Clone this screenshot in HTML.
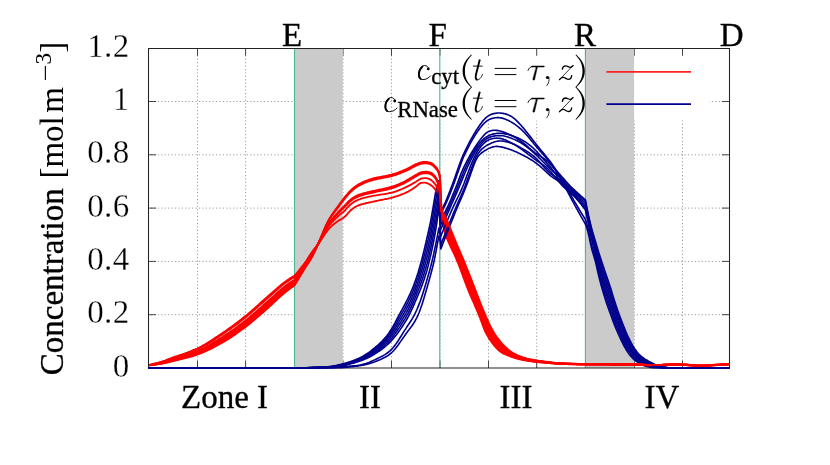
<!DOCTYPE html>
<html><head><meta charset="utf-8"><title>Concentration profiles</title>
<style>
html,body{margin:0;padding:0;background:#fff;}
body{width:830px;height:465px;overflow:hidden;font-family:"Liberation Serif",serif;}
svg{display:block;will-change:transform}
</style></head><body>
<svg width="830" height="465" viewBox="0 0 830 465">
<rect width="830" height="465" fill="#fff"/>
<path d="M197.50,49V368 M245.60,49V368 M294.50,49V368 M343.00,49V368 M391.50,49V368 M440.00,49V368 M488.50,49V368 M536.70,49V368 M585.50,49V368 M634.35,49V368 M682.50,49V368" stroke="#8c8c8c" stroke-width="0.85" stroke-dasharray="1.2,2.22" stroke-dashoffset="0.6" fill="none"/>
<path d="M149,314.70H729.5 M149,261.40H729.5 M149,208.10H729.5 M149,154.80H729.5 M149,101.50H729.5" stroke="#8c8c8c" stroke-width="0.85" stroke-dasharray="1.2,2.22" stroke-dashoffset="1.4" fill="none"/>
<rect x="395" y="49" width="314.5" height="71.5" fill="#fff"/>
<path d="M197.50,368v-7.3 M197.50,48.5v7.3 M245.60,368v-7.3 M245.60,48.5v7.3 M294.50,368v-7.3 M294.50,48.5v7.3 M343.00,368v-7.3 M343.00,48.5v7.3 M391.50,368v-7.3 M391.50,48.5v7.3 M440.00,368v-7.3 M440.00,48.5v7.3 M488.50,368v-7.3 M488.50,48.5v7.3 M536.70,368v-7.3 M536.70,48.5v7.3 M585.50,368v-7.3 M585.50,48.5v7.3 M634.35,368v-7.3 M634.35,48.5v7.3 M682.50,368v-7.3 M682.50,48.5v7.3 M148.6,314.70h7.5 M729.5,314.70h-7.5 M148.6,261.40h7.5 M729.5,261.40h-7.5 M148.6,208.10h7.5 M729.5,208.10h-7.5 M148.6,154.80h7.5 M729.5,154.80h-7.5 M148.6,101.50h7.5 M729.5,101.50h-7.5" stroke="#333" stroke-width="0.9" fill="none"/>
<rect x="295" y="49" width="47.8" height="319" fill="#cbcbcb"/>
<rect x="586" y="49" width="48.1" height="319" fill="#cbcbcb"/>
<path d="M294.5,49V368" stroke="#4db695" stroke-width="1.1" fill="none"/>
<path d="M439.8,49V368" stroke="#4db695" stroke-width="1.1" fill="none"/>
<path d="M585.4,49V368" stroke="#4db695" stroke-width="1.1" fill="none"/>
<path d="M148.5,367.9V48.5H729.5V367.9" fill="none" stroke="#222" stroke-width="1.05"/>
<path d="M148,367.9H730" fill="none" stroke="#222" stroke-width="1.05"/>
<g fill="none" stroke-width="1.85" stroke-linejoin="round" stroke-linecap="butt">
<path stroke="#00008b" stroke-width="1.62" d="M148.6,367.8 L296.0,367.8 L298.0,367.8 L299.0,367.8 L300.0,367.8 L301.0,367.8 L302.0,367.8 L303.0,367.8 L304.0,367.8 L305.0,367.7 L306.0,367.7 L307.0,367.7 L308.0,367.6 L309.0,367.6 L310.0,367.5 L311.0,367.5 L312.0,367.5 L313.0,367.4 L314.0,367.4 L315.0,367.3 L316.0,367.3 L317.0,367.2 L318.0,367.2 L319.0,367.1 L320.0,367.1 L321.0,367.1 L322.0,367.0 L323.0,367.0 L324.0,366.9 L325.0,366.9 L326.0,366.8 L327.0,366.7 L328.0,366.7 L329.0,366.6 L330.0,366.5 L331.0,366.3 L332.0,366.2 L333.0,366.1 L334.0,365.9 L335.0,365.7 L336.0,365.5 L337.0,365.3 L338.0,365.1 L339.0,364.8 L340.0,364.6 L341.0,364.4 L342.0,364.1 L343.0,363.8 L344.0,363.6 L345.0,363.3 L346.0,363.0 L347.0,362.7 L348.0,362.4 L349.0,362.1 L350.0,361.8 L351.0,361.4 L352.0,361.1 L353.0,360.7 L354.0,360.3 L355.0,359.9 L356.0,359.5 L357.0,359.1 L358.0,358.6 L359.0,358.2 L360.0,357.7 L361.0,357.2 L362.0,356.6 L363.0,356.1 L364.0,355.5 L365.0,354.9 L366.0,354.3 L367.0,353.6 L368.0,353.0 L369.0,352.3 L370.0,351.6 L371.0,350.8 L372.0,350.0 L373.0,349.2 L374.0,348.4 L375.0,347.6 L376.0,346.7 L377.0,345.9 L378.0,345.0 L379.0,344.1 L380.0,343.1 L381.0,342.2 L382.0,341.2 L383.0,340.1 L384.0,339.0 L385.0,337.9 L386.0,336.7 L387.0,335.5 L388.0,334.2 L389.0,332.8 L390.0,331.3 L391.0,329.8 L392.0,328.1 L393.0,326.4 L394.0,324.6 L395.0,322.8 L396.0,320.9 L397.0,319.0 L398.0,317.1 L399.0,315.2 L400.0,313.3 L401.0,311.5 L402.0,309.7 L403.0,307.8 L404.0,306.0 L405.0,304.1 L406.0,302.2 L407.0,300.3 L408.0,298.3 L409.0,296.2 L410.0,294.1 L411.0,291.8 L412.0,289.5 L413.0,287.1 L414.0,284.5 L415.0,281.8 L416.0,279.0 L417.0,276.0 L418.0,272.9 L419.0,269.5 L420.0,266.1 L421.0,262.4 L422.0,258.6 L423.0,254.7 L424.0,250.6 L425.0,246.4 L426.0,242.2 L427.0,237.8 L428.0,233.5 L429.0,229.0 L430.0,224.4 L430.3,223.0 L430.6,221.5 L430.9,219.9 L431.2,218.3 L431.5,216.6 L431.8,214.9 L432.1,213.1 L432.4,211.3 L432.7,209.6 L433.0,207.8 L433.3,206.1 L433.6,204.3 L433.9,202.5 L434.2,200.7 L434.5,198.9 L434.8,197.1 L435.1,195.3 L435.4,193.6 L435.7,192.0 L436.0,190.5 L436.3,189.1 L436.6,187.9 L436.9,186.7 L437.2,185.6 L437.5,184.5 L437.8,183.5 L438.1,182.6 L438.4,181.8 L438.7,181.0 L438.9,180.5 L439.8,196.2 L440.1,212.0 L441.0,210.6 L442.0,209.0 L443.0,207.1 L444.0,205.1 L445.0,203.0 L446.0,200.7 L447.0,198.3 L448.0,195.8 L449.0,193.3 L450.0,190.7 L451.0,188.1 L452.0,185.5 L453.0,182.9 L454.0,180.0 L455.0,177.2 L456.0,174.2 L457.0,171.4 L458.0,168.6 L459.0,165.8 L460.0,163.0 L461.0,160.3 L462.0,157.7 L463.0,155.4 L464.0,153.3 L465.0,151.2 L466.0,149.1 L467.0,147.1 L468.0,145.1 L469.0,143.1 L470.0,141.2 L471.0,139.4 L472.0,137.6 L473.0,135.8 L474.0,134.1 L475.0,132.5 L476.0,130.8 L477.0,129.3 L478.0,127.7 L479.0,126.3 L480.0,124.8 L481.0,123.4 L482.0,122.1 L483.0,120.8 L484.0,119.7 L485.0,118.6 L486.0,117.6 L487.0,116.8 L488.0,116.1 L489.0,115.5 L490.0,114.9 L491.0,114.5 L492.0,114.1 L493.0,113.8 L494.0,113.6 L495.0,113.4 L496.0,113.2 L497.0,113.1 L498.0,113.0 L499.0,113.0 L500.0,113.0 L501.0,113.1 L502.0,113.2 L503.0,113.4 L504.0,113.6 L505.0,113.8 L506.0,114.1 L507.0,114.4 L508.0,114.8 L509.0,115.2 L510.0,115.7 L511.0,116.3 L512.0,116.9 L513.0,117.6 L514.0,118.4 L515.0,119.2 L516.0,120.1 L517.0,121.1 L518.0,122.1 L519.0,123.1 L520.0,124.2 L521.0,125.3 L522.0,126.5 L523.0,127.6 L524.0,128.8 L525.0,130.0 L526.0,131.2 L527.0,132.4 L528.0,133.7 L529.0,135.0 L530.0,136.3 L531.0,137.6 L532.0,138.9 L533.0,140.2 L534.0,141.5 L535.0,142.7 L536.0,144.0 L537.0,145.3 L538.0,146.5 L539.0,147.7 L540.0,149.0 L541.0,150.2 L542.0,151.4 L543.0,152.6 L544.0,153.8 L545.0,155.0 L546.0,156.2 L547.0,157.5 L548.0,158.7 L549.0,160.0 L550.0,161.3 L551.0,162.6 L552.0,164.0 L553.0,165.4 L554.0,166.9 L555.0,168.4 L556.0,169.9 L557.0,171.5 L558.0,173.1 L559.0,174.7 L560.0,176.4 L561.0,178.1 L562.0,179.8 L563.0,181.5 L564.0,183.2 L565.0,184.9 L566.0,186.7 L567.0,188.4 L568.0,190.2 L569.0,191.9 L570.0,193.7 L571.0,195.4 L572.0,197.2 L573.0,198.9 L574.0,200.6 L575.0,202.3 L576.0,204.0 L577.0,205.7 L578.0,207.4 L579.0,209.1 L580.0,210.8 L581.0,212.4 L582.0,214.0 L583.0,215.6 L584.0,217.3 L585.4,219.5 L586.0,221.4 L587.0,224.8 L588.0,228.5 L589.0,232.9 L590.0,237.8 L591.0,242.5 L592.0,246.5 L593.0,250.0 L594.0,253.3 L595.0,256.8 L596.0,260.7 L597.0,265.0 L598.0,269.5 L599.0,273.6 L600.0,277.4 L601.0,281.1 L602.0,284.6 L603.0,288.0 L604.0,291.3 L605.0,294.5 L606.0,297.5 L607.0,300.5 L608.0,303.4 L609.0,306.2 L610.0,309.0 L611.0,311.9 L612.0,314.7 L613.0,317.4 L614.0,320.1 L615.0,322.7 L616.0,325.3 L617.0,327.7 L618.0,330.1 L619.0,332.4 L620.0,334.7 L621.0,336.9 L622.0,339.0 L623.0,341.1 L624.0,343.1 L625.0,345.1 L626.0,347.0 L627.0,348.7 L628.0,350.3 L629.0,351.8 L630.0,353.1 L631.0,354.4 L632.0,355.7 L633.0,356.8 L634.0,357.8 L635.0,358.7 L636.0,359.6 L637.0,360.4 L638.0,361.1 L639.0,361.8 L640.0,362.4 L641.0,363.0 L642.0,363.5 L643.0,364.0 L644.0,364.5 L645.0,364.9 L646.0,365.3 L647.0,365.6 L648.0,365.9 L649.0,366.2 L650.0,366.5 L651.0,366.7 L652.0,366.8 L653.0,367.0 L654.0,367.1 L655.0,367.3 L656.0,367.4 L657.0,367.5 L658.0,367.5 L659.0,367.6 L660.0,367.6 L661.0,367.7 L662.0,367.7 L663.0,367.7 L664.0,367.7 L665.0,367.7 L666.0,367.8 L667.0,367.8 L668.0,367.8 L669.0,367.8 L670.0,367.8 L671.0,367.8 L672.0,367.8 L673.0,367.8 L674.0,367.8 L675.0,367.8 L700.0,367.8 L729.5,367.8"/>
<path stroke="#ff0000" d="M149.2,364.9 L151.2,364.5 L153.2,364.0 L155.2,363.5 L157.2,363.0 L159.2,362.4 L161.2,361.8 L163.2,361.2 L165.2,360.5 L167.2,359.7 L169.2,358.9 L171.2,358.2 L173.2,357.4 L175.2,356.7 L177.2,356.0 L179.2,355.3 L181.2,354.7 L183.2,354.0 L185.2,353.3 L187.2,352.6 L189.2,351.8 L191.2,351.0 L193.2,350.2 L195.2,349.4 L197.2,348.5 L199.2,347.5 L201.2,346.5 L203.2,345.4 L205.2,344.3 L207.2,343.1 L209.2,341.8 L211.2,340.5 L213.2,339.2 L215.2,337.9 L217.2,336.6 L219.2,335.2 L221.2,333.9 L223.2,332.5 L225.2,331.2 L227.2,329.8 L229.2,328.3 L231.2,326.9 L233.2,325.4 L235.2,324.0 L237.2,322.4 L239.2,320.9 L241.2,319.4 L243.2,317.8 L245.2,316.2 L247.2,314.6 L249.2,312.9 L251.2,311.2 L253.2,309.4 L255.2,307.7 L257.2,305.9 L259.2,304.1 L261.2,302.3 L263.2,300.5 L265.2,298.7 L267.2,297.0 L269.2,295.2 L271.2,293.5 L273.2,291.7 L275.2,289.9 L277.2,288.1 L279.2,286.4 L281.2,284.8 L283.2,283.2 L285.2,281.7 L287.2,280.3 L289.2,278.9 L290.0,278.4 L290.5,278.1 L291.0,277.8 L291.5,277.5 L292.0,277.2 L292.5,276.9 L293.0,276.6 L293.5,276.3 L294.0,276.0 L294.5,275.7 L295.0,275.1 L295.5,274.6 L296.0,274.0 L296.5,273.4 L297.0,272.9 L297.5,272.3 L298.0,271.7 L298.5,271.1 L299.0,270.4 L299.5,269.8 L300.0,269.2 L301.0,267.9 L302.0,266.6 L303.0,265.3 L304.0,264.0 L305.0,262.6 L306.0,261.2 L307.0,259.7 L308.0,258.1 L309.0,256.6 L310.0,255.0 L311.0,253.5 L312.0,252.0 L313.0,250.6 L314.0,249.3 L315.0,248.0 L316.0,246.8 L317.0,245.6 L318.0,244.3 L319.0,243.0 L320.0,241.6 L321.0,240.1 L322.0,238.6 L323.0,237.0 L324.0,235.4 L325.0,233.9 L326.0,232.4 L327.0,231.1 L328.0,229.8 L329.0,228.7 L330.0,227.6 L331.0,226.7 L332.0,225.7 L333.0,224.8 L334.0,224.0 L335.0,223.2 L336.0,222.4 L337.0,221.7 L338.0,221.0 L339.0,220.3 L340.0,219.8 L341.0,219.3 L342.0,218.7 L343.0,218.1 L344.0,217.4 L345.0,216.5 L346.0,215.5 L347.0,214.4 L348.0,213.2 L349.0,212.1 L350.0,211.0 L351.0,210.0 L352.0,209.2 L353.0,208.4 L354.0,207.8 L355.0,207.1 L356.0,206.5 L357.0,206.0 L358.0,205.6 L359.0,205.2 L360.0,204.8 L361.0,204.5 L362.0,204.2 L363.0,204.0 L364.0,203.7 L365.0,203.5 L366.0,203.2 L367.0,203.0 L368.0,202.8 L369.0,202.5 L370.0,202.3 L371.0,202.1 L372.0,201.9 L373.0,201.7 L374.0,201.5 L375.0,201.3 L376.0,201.0 L377.0,200.8 L378.0,200.6 L379.0,200.4 L380.0,200.2 L381.0,200.0 L382.0,199.8 L383.0,199.6 L384.0,199.4 L385.0,199.2 L386.0,199.0 L387.0,198.8 L388.0,198.6 L389.0,198.3 L390.0,198.1 L391.0,197.8 L392.0,197.6 L393.0,197.3 L394.0,197.0 L395.0,196.7 L396.0,196.4 L397.0,196.1 L398.0,195.8 L399.0,195.4 L400.0,195.1 L401.0,194.7 L402.0,194.3 L403.0,193.9 L404.0,193.5 L405.0,193.1 L406.0,192.6 L407.0,192.1 L408.0,191.6 L409.0,191.0 L410.0,190.5 L411.0,189.9 L412.0,189.2 L413.0,188.6 L414.0,187.9 L415.0,187.3 L416.0,186.6 L417.0,185.8 L418.0,184.9 L419.0,184.0 L420.0,183.4 L421.0,182.9 L422.0,182.8 L423.0,182.7 L424.0,182.6 L425.0,182.7 L426.0,182.9 L427.0,183.2 L428.0,183.6 L429.0,184.0 L430.0,184.6 L430.2,184.7 L430.4,184.9 L430.6,185.0 L430.8,185.1 L431.0,185.3 L431.2,185.4 L431.4,185.6 L431.6,185.7 L431.8,185.9 L432.0,186.0 L432.2,186.2 L432.4,186.4 L432.6,186.5 L432.8,186.7 L433.0,186.9 L433.2,187.1 L433.4,187.3 L433.6,187.5 L433.8,187.7 L434.0,188.0 L434.2,188.2 L434.4,188.4 L434.6,188.7 L434.8,189.0 L435.0,189.2 L435.2,189.5 L435.4,189.8 L435.6,190.1 L435.8,190.5 L436.0,190.8 L436.2,191.3 L436.4,191.7 L436.6,192.2 L436.8,192.7 L437.0,193.3 L437.2,194.0 L437.4,194.8 L437.6,195.7 L437.8,196.6 L438.0,197.7 L438.2,198.8 L438.4,199.9 L438.6,201.1 L438.8,202.3 L439.0,203.4 L439.2,204.6 L439.4,205.8 L439.6,206.9 L439.8,207.9 L440.0,208.9 L440.2,209.9 L440.4,210.9 L440.6,211.9 L440.8,212.9 L441.0,214.0 L441.2,215.0 L441.4,216.0 L441.6,217.1 L441.8,218.1 L442.0,219.1 L442.2,220.2 L442.4,221.2 L442.6,222.2 L442.8,223.2 L443.0,224.2 L443.2,225.1 L443.4,226.1 L443.6,227.0 L443.8,227.9 L444.0,228.8 L444.2,229.7 L444.4,230.5 L444.6,231.3 L444.8,232.1 L445.0,232.8 L445.2,233.5 L445.4,234.2 L445.6,234.8 L445.8,235.4 L446.0,236.0 L447.0,238.6 L448.0,240.9 L449.0,243.1 L450.0,245.3 L451.0,247.5 L452.0,249.5 L453.0,251.6 L454.0,253.7 L455.0,256.0 L456.0,258.2 L457.0,260.6 L458.0,262.9 L459.0,265.4 L460.0,268.0 L461.0,270.7 L462.0,273.5 L463.0,276.3 L464.0,278.9 L465.0,281.6 L466.0,284.2 L467.0,286.8 L468.0,289.3 L469.0,291.8 L470.0,294.3 L471.0,296.6 L472.0,299.0 L473.0,301.2 L474.0,303.5 L475.0,305.8 L476.0,308.2 L477.0,310.5 L478.0,312.9 L479.0,315.3 L480.0,317.7 L481.0,320.4 L482.0,323.2 L483.0,326.0 L484.0,328.7 L485.0,331.0 L486.0,333.0 L487.0,334.8 L488.0,336.6 L489.0,338.2 L490.0,339.7 L491.0,341.2 L492.0,342.7 L493.0,344.0 L494.0,345.3 L495.0,346.5 L496.0,347.6 L497.0,348.7 L498.0,349.7 L499.0,350.6 L500.0,351.4 L501.0,352.1 L502.0,352.7 L503.0,353.3 L504.0,353.8 L505.0,354.2 L506.0,354.7 L507.0,355.1 L508.0,355.5 L509.0,355.9 L510.0,356.3 L511.0,356.7 L512.0,357.0 L513.0,357.3 L514.0,357.7 L515.0,358.0 L516.0,358.3 L517.0,358.5 L518.0,358.8 L519.0,359.1 L520.0,359.3 L521.0,359.5 L522.0,359.8 L523.0,360.0 L524.0,360.2 L525.0,360.4 L526.0,360.6 L527.0,360.7 L528.0,360.9 L529.0,361.1 L530.0,361.2 L531.0,361.3 L532.0,361.5 L533.0,361.6 L534.0,361.7 L535.0,361.8 L536.0,361.9 L537.0,362.0 L538.0,362.2 L539.0,362.3 L540.0,362.4 L541.0,362.4 L542.0,362.5 L543.0,362.6 L544.0,362.7 L545.0,362.8 L546.0,362.9 L547.0,363.0 L548.0,363.1 L549.0,363.1 L550.0,363.2 L551.0,363.3 L552.0,363.4 L553.0,363.4 L554.0,363.5 L555.0,363.6 L556.0,363.6 L557.0,363.7 L558.0,363.8 L559.0,363.8 L560.0,363.9 L562.0,363.9 L564.0,364.0 L566.0,364.1 L568.0,364.2 L570.0,364.2 L572.0,364.3 L574.0,364.4 L576.0,364.4 L578.0,364.5 L580.0,364.5 L582.0,364.5 L584.0,364.5 L586.0,364.6 L588.0,364.6 L590.0,364.6 L592.0,364.6 L594.0,364.6 L596.0,364.6 L598.0,364.6 L600.0,364.6 L602.0,364.6 L604.0,364.6 L606.0,364.6 L608.0,364.6 L610.0,364.7 L612.0,364.7 L614.0,364.7 L616.0,364.7 L618.0,364.7 L620.0,364.7 L622.0,364.7 L624.0,364.7 L626.0,364.8 L628.0,364.8 L630.0,364.8 L632.0,364.8 L634.0,364.9 L636.0,364.9 L638.0,365.0 L640.0,365.1 L642.0,365.2 L644.0,365.3 L646.0,365.4 L648.0,365.5 L650.0,365.6 L652.0,365.6 L654.0,365.6 L656.0,365.6 L658.0,365.6 L660.0,365.5 L662.0,365.4 L664.0,365.2 L666.0,365.2 L668.0,365.1 L670.0,364.9 L672.0,364.9 L674.0,364.8 L676.0,364.8 L678.0,364.8 L680.0,364.9 L682.0,365.0 L684.0,365.1 L686.0,365.2 L688.0,365.4 L690.0,365.5 L692.0,365.6 L694.0,365.7 L696.0,365.9 L698.0,366.0 L700.0,366.0 L702.0,366.0 L704.0,366.0 L706.0,365.9 L708.0,365.8 L710.0,365.7 L712.0,365.5 L714.0,365.4 L716.0,365.3 L718.0,365.2 L720.0,365.1 L722.0,364.9 L724.0,364.8 L726.0,364.7 L728.0,364.6 L729.2,364.5"/>
<path stroke="#00008b" stroke-width="1.62" d="M148.6,367.8 L296.0,367.8 L298.0,367.8 L299.0,367.8 L300.0,367.8 L301.0,367.8 L302.0,367.8 L303.0,367.8 L304.0,367.8 L305.0,367.7 L306.0,367.7 L307.0,367.7 L308.0,367.7 L309.0,367.6 L310.0,367.6 L311.0,367.6 L312.0,367.5 L313.0,367.5 L314.0,367.4 L315.0,367.4 L316.0,367.4 L317.0,367.3 L318.0,367.3 L319.0,367.3 L320.0,367.2 L321.0,367.2 L322.0,367.2 L323.0,367.1 L324.0,367.1 L325.0,367.0 L326.0,367.0 L327.0,366.9 L328.0,366.8 L329.0,366.8 L330.0,366.7 L331.0,366.6 L332.0,366.4 L333.0,366.3 L334.0,366.1 L335.0,366.0 L336.0,365.8 L337.0,365.6 L338.0,365.4 L339.0,365.2 L340.0,364.9 L341.0,364.7 L342.0,364.5 L343.0,364.2 L344.0,363.9 L345.0,363.7 L346.0,363.4 L347.0,363.1 L348.0,362.8 L349.0,362.5 L350.0,362.2 L351.0,361.9 L352.0,361.5 L353.0,361.2 L354.0,360.8 L355.0,360.5 L356.0,360.1 L357.0,359.7 L358.0,359.2 L359.0,358.8 L360.0,358.3 L361.0,357.9 L362.0,357.4 L363.0,356.9 L364.0,356.3 L365.0,355.8 L366.0,355.2 L367.0,354.6 L368.0,353.9 L369.0,353.3 L370.0,352.6 L371.0,351.9 L372.0,351.2 L373.0,350.4 L374.0,349.6 L375.0,348.9 L376.0,348.0 L377.0,347.2 L378.0,346.4 L379.0,345.5 L380.0,344.6 L381.0,343.7 L382.0,342.7 L383.0,341.8 L384.0,340.7 L385.0,339.7 L386.0,338.6 L387.0,337.4 L388.0,336.2 L389.0,334.9 L390.0,333.5 L391.0,332.0 L392.0,330.5 L393.0,328.9 L394.0,327.2 L395.0,325.5 L396.0,323.8 L397.0,322.0 L398.0,320.2 L399.0,318.4 L400.0,316.6 L401.0,314.9 L402.0,313.1 L403.0,311.3 L404.0,309.6 L405.0,307.8 L406.0,305.9 L407.0,304.0 L408.0,302.0 L409.0,300.0 L410.0,297.9 L411.0,295.7 L412.0,293.4 L413.0,291.0 L414.0,288.5 L415.0,285.9 L416.0,283.2 L417.0,280.3 L418.0,277.4 L419.0,274.2 L420.0,270.9 L421.0,267.5 L422.0,264.0 L423.0,260.3 L424.0,256.4 L425.0,252.4 L426.0,248.4 L427.0,244.3 L428.0,240.1 L429.0,235.7 L430.0,231.2 L430.3,229.7 L430.6,228.3 L430.9,226.8 L431.2,225.2 L431.5,223.6 L431.8,221.9 L432.1,220.3 L432.4,218.6 L432.7,216.9 L433.0,215.2 L433.3,213.5 L433.6,211.8 L433.9,210.0 L434.2,208.2 L434.5,206.5 L434.8,204.7 L435.1,203.0 L435.4,201.3 L435.7,199.6 L436.0,198.1 L436.3,196.6 L436.6,195.2 L436.9,193.8 L437.2,192.5 L437.5,191.2 L437.8,190.0 L438.1,188.8 L438.4,187.6 L438.7,186.5 L438.9,185.8 L439.8,200.2 L440.1,214.5 L441.0,213.1 L442.0,211.3 L443.0,209.5 L444.0,207.5 L445.0,205.4 L446.0,203.2 L447.0,200.9 L448.0,198.6 L449.0,196.2 L450.0,193.7 L451.0,191.2 L452.0,188.6 L453.0,186.0 L454.0,183.4 L455.0,180.6 L456.0,177.7 L457.0,174.8 L458.0,172.0 L459.0,169.2 L460.0,166.4 L461.0,163.5 L462.0,160.8 L463.0,158.3 L464.0,156.0 L465.0,153.9 L466.0,151.8 L467.0,149.8 L468.0,147.8 L469.0,145.8 L470.0,143.9 L471.0,142.1 L472.0,140.3 L473.0,138.6 L474.0,137.0 L475.0,135.4 L476.0,133.8 L477.0,132.3 L478.0,130.9 L479.0,129.5 L480.0,128.1 L481.0,126.9 L482.0,125.6 L483.0,124.5 L484.0,123.4 L485.0,122.5 L486.0,121.6 L487.0,120.8 L488.0,120.2 L489.0,119.6 L490.0,119.2 L491.0,118.8 L492.0,118.4 L493.0,118.2 L494.0,118.0 L495.0,117.8 L496.0,117.7 L497.0,117.6 L498.0,117.6 L499.0,117.6 L500.0,117.7 L501.0,117.9 L502.0,118.1 L503.0,118.4 L504.0,118.7 L505.0,119.1 L506.0,119.5 L507.0,119.9 L508.0,120.3 L509.0,120.8 L510.0,121.4 L511.0,121.9 L512.0,122.5 L513.0,123.1 L514.0,123.7 L515.0,124.4 L516.0,125.1 L517.0,125.9 L518.0,126.6 L519.0,127.5 L520.0,128.3 L521.0,129.2 L522.0,130.1 L523.0,131.1 L524.0,132.1 L525.0,133.1 L526.0,134.2 L527.0,135.4 L528.0,136.5 L529.0,137.7 L530.0,138.9 L531.0,140.2 L532.0,141.4 L533.0,142.6 L534.0,143.9 L535.0,145.1 L536.0,146.3 L537.0,147.5 L538.0,148.6 L539.0,149.8 L540.0,150.9 L541.0,152.0 L542.0,153.2 L543.0,154.3 L544.0,155.4 L545.0,156.6 L546.0,157.8 L547.0,159.0 L548.0,160.2 L549.0,161.5 L550.0,162.8 L551.0,164.1 L552.0,165.5 L553.0,166.9 L554.0,168.4 L555.0,169.9 L556.0,171.4 L557.0,173.0 L558.0,174.6 L559.0,176.2 L560.0,177.9 L561.0,179.6 L562.0,181.4 L563.0,183.1 L564.0,185.0 L565.0,186.8 L566.0,188.6 L567.0,190.5 L568.0,192.4 L569.0,194.3 L570.0,196.2 L571.0,198.1 L572.0,200.0 L573.0,201.9 L574.0,203.7 L575.0,205.6 L576.0,207.4 L577.0,209.2 L578.0,211.0 L579.0,212.8 L580.0,214.6 L581.0,216.4 L582.0,218.1 L583.0,219.9 L584.0,221.6 L585.4,224.0 L586.0,225.6 L587.0,228.6 L588.0,232.0 L589.0,236.2 L590.0,241.1 L591.0,245.9 L592.0,249.9 L593.0,253.3 L594.0,256.5 L595.0,259.9 L596.0,263.8 L597.0,268.2 L598.0,272.8 L599.0,277.0 L600.0,280.9 L601.0,284.7 L602.0,288.3 L603.0,291.8 L604.0,295.1 L605.0,298.3 L606.0,301.4 L607.0,304.4 L608.0,307.2 L609.0,310.1 L610.0,312.8 L611.0,315.6 L612.0,318.3 L613.0,321.0 L614.0,323.6 L615.0,326.1 L616.0,328.6 L617.0,330.9 L618.0,333.3 L619.0,335.5 L620.0,337.7 L621.0,339.8 L622.0,341.8 L623.0,343.8 L624.0,345.8 L625.0,347.7 L626.0,349.4 L627.0,351.1 L628.0,352.6 L629.0,354.0 L630.0,355.2 L631.0,356.4 L632.0,357.5 L633.0,358.6 L634.0,359.5 L635.0,360.3 L636.0,361.1 L637.0,361.8 L638.0,362.4 L639.0,363.0 L640.0,363.6 L641.0,364.1 L642.0,364.6 L643.0,365.1 L644.0,365.5 L645.0,365.9 L646.0,366.2 L647.0,366.5 L648.0,366.8 L649.0,367.0 L650.0,367.2 L651.0,367.4 L652.0,367.5 L653.0,367.6 L654.0,367.6 L655.0,367.7 L656.0,367.8 L657.0,367.8 L658.0,367.8 L659.0,367.8 L660.0,367.8 L661.0,367.8 L662.0,367.8 L663.0,367.8 L664.0,367.8 L665.0,367.8 L666.0,367.8 L667.0,367.8 L668.0,367.8 L669.0,367.8 L670.0,367.8 L671.0,367.8 L672.0,367.8 L673.0,367.8 L674.0,367.8 L675.0,367.8 L700.0,367.8 L729.5,367.8"/>
<path stroke="#ff0000" d="M149.2,365.0 L151.2,364.6 L153.2,364.2 L155.2,363.7 L157.2,363.2 L159.2,362.7 L161.2,362.1 L163.2,361.5 L165.2,360.8 L167.2,360.1 L169.2,359.4 L171.2,358.6 L173.2,357.9 L175.2,357.3 L177.2,356.6 L179.2,355.9 L181.2,355.3 L183.2,354.6 L185.2,353.9 L187.2,353.3 L189.2,352.5 L191.2,351.8 L193.2,351.0 L195.2,350.2 L197.2,349.3 L199.2,348.4 L201.2,347.4 L203.2,346.4 L205.2,345.2 L207.2,344.1 L209.2,342.9 L211.2,341.6 L213.2,340.4 L215.2,339.1 L217.2,337.8 L219.2,336.5 L221.2,335.1 L223.2,333.8 L225.2,332.5 L227.2,331.1 L229.2,329.7 L231.2,328.3 L233.2,326.8 L235.2,325.4 L237.2,323.9 L239.2,322.4 L241.2,320.8 L243.2,319.3 L245.2,317.7 L247.2,316.1 L249.2,314.4 L251.2,312.7 L253.2,311.0 L255.2,309.2 L257.2,307.4 L259.2,305.6 L261.2,303.9 L263.2,302.1 L265.2,300.3 L267.2,298.6 L269.2,296.8 L271.2,295.0 L273.2,293.2 L275.2,291.4 L277.2,289.7 L279.2,287.9 L281.2,286.2 L283.2,284.6 L285.2,283.1 L287.2,281.7 L289.2,280.3 L290.0,279.8 L290.5,279.5 L291.0,279.2 L291.5,278.8 L292.0,278.5 L292.5,278.2 L293.0,277.9 L293.5,277.6 L294.0,277.3 L294.5,277.0 L295.0,276.4 L295.5,275.8 L296.0,275.2 L296.5,274.6 L297.0,274.0 L297.5,273.4 L298.0,272.8 L298.5,272.1 L299.0,271.5 L299.5,270.8 L300.0,270.2 L301.0,268.9 L302.0,267.5 L303.0,266.2 L304.0,264.8 L305.0,263.4 L306.0,261.9 L307.0,260.4 L308.0,258.9 L309.0,257.3 L310.0,255.8 L311.0,254.3 L312.0,252.7 L313.0,251.3 L314.0,249.8 L315.0,248.4 L316.0,247.0 L317.0,245.6 L318.0,244.1 L319.0,242.6 L320.0,241.0 L321.0,239.3 L322.0,237.5 L323.0,235.6 L324.0,233.8 L325.0,232.0 L326.0,230.2 L327.0,228.6 L328.0,227.1 L329.0,225.7 L330.0,224.5 L331.0,223.3 L332.0,222.2 L333.0,221.1 L334.0,220.1 L335.0,219.1 L336.0,218.1 L337.0,217.2 L338.0,216.3 L339.0,215.4 L340.0,214.6 L341.0,213.8 L342.0,213.0 L343.0,212.2 L344.0,211.3 L345.0,210.3 L346.0,209.2 L347.0,208.1 L348.0,207.0 L349.0,206.0 L350.0,205.0 L351.0,204.1 L352.0,203.3 L353.0,202.6 L354.0,201.9 L355.0,201.3 L356.0,200.8 L357.0,200.3 L358.0,199.8 L359.0,199.4 L360.0,199.1 L361.0,198.7 L362.0,198.4 L363.0,198.2 L364.0,197.9 L365.0,197.6 L366.0,197.4 L367.0,197.2 L368.0,196.9 L369.0,196.7 L370.0,196.5 L371.0,196.3 L372.0,196.1 L373.0,195.9 L374.0,195.7 L375.0,195.6 L376.0,195.4 L377.0,195.2 L378.0,195.1 L379.0,194.9 L380.0,194.7 L381.0,194.6 L382.0,194.4 L383.0,194.3 L384.0,194.1 L385.0,194.0 L386.0,193.8 L387.0,193.6 L388.0,193.4 L389.0,193.2 L390.0,193.0 L391.0,192.8 L392.0,192.5 L393.0,192.3 L394.0,192.0 L395.0,191.7 L396.0,191.3 L397.0,191.0 L398.0,190.6 L399.0,190.2 L400.0,189.8 L401.0,189.4 L402.0,189.0 L403.0,188.6 L404.0,188.1 L405.0,187.7 L406.0,187.2 L407.0,186.7 L408.0,186.2 L409.0,185.7 L410.0,185.1 L411.0,184.6 L412.0,184.0 L413.0,183.4 L414.0,182.8 L415.0,182.3 L416.0,181.7 L417.0,181.1 L418.0,180.4 L419.0,179.8 L420.0,179.2 L421.0,178.7 L422.0,178.4 L423.0,178.3 L424.0,178.2 L425.0,178.1 L426.0,178.1 L427.0,178.3 L428.0,178.5 L429.0,178.9 L430.0,179.4 L430.2,179.5 L430.4,179.7 L430.6,179.8 L430.8,179.9 L431.0,180.1 L431.2,180.2 L431.4,180.4 L431.6,180.5 L431.8,180.7 L432.0,180.8 L432.2,181.0 L432.4,181.2 L432.6,181.3 L432.8,181.5 L433.0,181.7 L433.2,181.9 L433.4,182.1 L433.6,182.3 L433.8,182.6 L434.0,182.8 L434.2,183.0 L434.4,183.3 L434.6,183.5 L434.8,183.8 L435.0,184.0 L435.2,184.3 L435.4,184.6 L435.6,184.9 L435.8,185.1 L436.0,185.4 L436.2,185.8 L436.4,186.1 L436.6,186.5 L436.8,186.9 L437.0,187.3 L437.2,187.8 L437.4,188.3 L437.6,188.9 L437.8,189.5 L438.0,190.3 L438.2,191.5 L438.4,193.0 L438.6,194.7 L438.8,196.5 L439.0,198.5 L439.2,200.4 L439.4,202.4 L439.6,204.3 L439.8,206.0 L440.0,207.5 L440.2,208.8 L440.4,209.9 L440.6,211.1 L440.8,212.2 L441.0,213.3 L441.2,214.4 L441.4,215.4 L441.6,216.4 L441.8,217.4 L442.0,218.4 L442.2,219.3 L442.4,220.3 L442.6,221.2 L442.8,222.1 L443.0,222.9 L443.2,223.8 L443.4,224.6 L443.6,225.4 L443.8,226.2 L444.0,226.9 L444.2,227.7 L444.4,228.4 L444.6,229.1 L444.8,229.8 L445.0,230.5 L445.2,231.1 L445.4,231.7 L445.6,232.4 L445.8,232.9 L446.0,233.5 L447.0,236.1 L448.0,238.4 L449.0,240.6 L450.0,242.8 L451.0,245.0 L452.0,247.2 L453.0,249.3 L454.0,251.5 L455.0,253.7 L456.0,256.0 L457.0,258.3 L458.0,260.7 L459.0,263.2 L460.0,265.7 L461.0,268.4 L462.0,271.1 L463.0,273.8 L464.0,276.5 L465.0,279.1 L466.0,281.6 L467.0,284.2 L468.0,286.8 L469.0,289.3 L470.0,291.7 L471.0,294.1 L472.0,296.5 L473.0,298.8 L474.0,301.1 L475.0,303.5 L476.0,305.8 L477.0,308.2 L478.0,310.6 L479.0,313.0 L480.0,315.5 L481.0,318.2 L482.0,320.9 L483.0,323.7 L484.0,326.3 L485.0,328.6 L486.0,330.7 L487.0,332.6 L488.0,334.4 L489.0,336.1 L490.0,337.7 L491.0,339.3 L492.0,340.8 L493.0,342.2 L494.0,343.5 L495.0,344.8 L496.0,346.0 L497.0,347.1 L498.0,348.2 L499.0,349.1 L500.0,350.0 L501.0,350.7 L502.0,351.4 L503.0,352.1 L504.0,352.6 L505.0,353.2 L506.0,353.7 L507.0,354.2 L508.0,354.7 L509.0,355.1 L510.0,355.6 L511.0,356.0 L512.0,356.4 L513.0,356.7 L514.0,357.1 L515.0,357.4 L516.0,357.7 L517.0,358.1 L518.0,358.3 L519.0,358.6 L520.0,358.9 L521.0,359.1 L522.0,359.4 L523.0,359.6 L524.0,359.8 L525.0,360.0 L526.0,360.2 L527.0,360.4 L528.0,360.6 L529.0,360.8 L530.0,360.9 L531.0,361.1 L532.0,361.2 L533.0,361.4 L534.0,361.5 L535.0,361.6 L536.0,361.7 L537.0,361.8 L538.0,361.9 L539.0,362.1 L540.0,362.2 L541.0,362.3 L542.0,362.4 L543.0,362.4 L544.0,362.5 L545.0,362.6 L546.0,362.7 L547.0,362.8 L548.0,362.9 L549.0,363.0 L550.0,363.1 L551.0,363.2 L552.0,363.2 L553.0,363.3 L554.0,363.4 L555.0,363.5 L556.0,363.5 L557.0,363.6 L558.0,363.7 L559.0,363.7 L560.0,363.8 L562.0,363.8 L564.0,363.9 L566.0,364.0 L568.0,364.1 L570.0,364.1 L572.0,364.2 L574.0,364.3 L576.0,364.3 L578.0,364.4 L580.0,364.4 L582.0,364.4 L584.0,364.4 L586.0,364.5 L588.0,364.5 L590.0,364.5 L592.0,364.5 L594.0,364.5 L596.0,364.5 L598.0,364.5 L600.0,364.5 L602.0,364.5 L604.0,364.5 L606.0,364.5 L608.0,364.5 L610.0,364.6 L612.0,364.6 L614.0,364.6 L616.0,364.6 L618.0,364.6 L620.0,364.6 L622.0,364.6 L624.0,364.6 L626.0,364.7 L628.0,364.7 L630.0,364.7 L632.0,364.7 L634.0,364.8 L636.0,364.8 L638.0,364.9 L640.0,365.0 L642.0,365.1 L644.0,365.2 L646.0,365.3 L648.0,365.4 L650.0,365.5 L652.0,365.5 L654.0,365.5 L656.0,365.5 L658.0,365.5 L660.0,365.4 L662.0,365.3 L664.0,365.2 L666.0,365.1 L668.0,365.0 L670.0,364.9 L672.0,364.8 L674.0,364.7 L676.0,364.7 L678.0,364.7 L680.0,364.8 L682.0,364.9 L684.0,365.0 L686.0,365.1 L688.0,365.3 L690.0,365.4 L692.0,365.5 L694.0,365.7 L696.0,365.8 L698.0,365.9 L700.0,365.9 L702.0,365.9 L704.0,365.9 L706.0,365.8 L708.0,365.7 L710.0,365.6 L712.0,365.4 L714.0,365.3 L716.0,365.2 L718.0,365.1 L720.0,365.0 L722.0,364.8 L724.0,364.7 L726.0,364.6 L728.0,364.5 L729.2,364.4"/>
<path stroke="#00008b" stroke-width="1.62" d="M148.6,367.8 L296.0,367.8 L298.0,367.8 L299.0,367.8 L300.0,367.8 L301.0,367.8 L302.0,367.8 L303.0,367.8 L304.0,367.8 L305.0,367.8 L306.0,367.7 L307.0,367.7 L308.0,367.7 L309.0,367.7 L310.0,367.6 L311.0,367.6 L312.0,367.6 L313.0,367.6 L314.0,367.5 L315.0,367.5 L316.0,367.5 L317.0,367.4 L318.0,367.4 L319.0,367.4 L320.0,367.3 L321.0,367.3 L322.0,367.3 L323.0,367.3 L324.0,367.2 L325.0,367.2 L326.0,367.1 L327.0,367.1 L328.0,367.0 L329.0,367.0 L330.0,366.9 L331.0,366.8 L332.0,366.7 L333.0,366.5 L334.0,366.4 L335.0,366.2 L336.0,366.1 L337.0,365.9 L338.0,365.7 L339.0,365.5 L340.0,365.3 L341.0,365.0 L342.0,364.8 L343.0,364.6 L344.0,364.3 L345.0,364.1 L346.0,363.8 L347.0,363.5 L348.0,363.2 L349.0,363.0 L350.0,362.7 L351.0,362.3 L352.0,362.0 L353.0,361.7 L354.0,361.3 L355.0,361.0 L356.0,360.6 L357.0,360.2 L358.0,359.8 L359.0,359.4 L360.0,359.0 L361.0,358.6 L362.0,358.1 L363.0,357.6 L364.0,357.1 L365.0,356.6 L366.0,356.0 L367.0,355.5 L368.0,354.9 L369.0,354.3 L370.0,353.6 L371.0,353.0 L372.0,352.3 L373.0,351.6 L374.0,350.9 L375.0,350.1 L376.0,349.3 L377.0,348.6 L378.0,347.8 L379.0,346.9 L380.0,346.1 L381.0,345.2 L382.0,344.3 L383.0,343.4 L384.0,342.4 L385.0,341.4 L386.0,340.4 L387.0,339.3 L388.0,338.1 L389.0,336.9 L390.0,335.7 L391.0,334.3 L392.0,332.9 L393.0,331.4 L394.0,329.9 L395.0,328.3 L396.0,326.6 L397.0,325.0 L398.0,323.3 L399.0,321.6 L400.0,319.9 L401.0,318.3 L402.0,316.6 L403.0,314.9 L404.0,313.2 L405.0,311.4 L406.0,309.6 L407.0,307.7 L408.0,305.8 L409.0,303.8 L410.0,301.8 L411.0,299.6 L412.0,297.3 L413.0,295.0 L414.0,292.6 L415.0,290.0 L416.0,287.4 L417.0,284.7 L418.0,281.8 L419.0,278.9 L420.0,275.8 L421.0,272.6 L422.0,269.3 L423.0,265.9 L424.0,262.2 L425.0,258.5 L426.0,254.7 L427.0,250.8 L428.0,246.7 L429.0,242.3 L430.0,237.9 L430.3,236.5 L430.6,235.1 L430.9,233.6 L431.2,232.1 L431.5,230.6 L431.8,229.0 L432.1,227.4 L432.4,225.8 L432.7,224.1 L433.0,222.5 L433.3,220.9 L433.6,219.2 L433.9,217.5 L434.2,215.8 L434.5,214.0 L434.8,212.3 L435.1,210.6 L435.4,208.9 L435.7,207.2 L436.0,205.6 L436.3,204.0 L436.6,202.5 L436.9,201.0 L437.2,199.5 L437.5,197.9 L437.8,196.4 L438.1,195.0 L438.4,193.5 L438.7,192.0 L438.9,191.1 L439.9,206.1 L440.2,221.0 L441.0,219.6 L442.0,217.8 L443.0,216.0 L444.0,214.1 L445.0,212.2 L446.0,210.2 L447.0,208.1 L448.0,206.0 L449.0,203.8 L450.0,201.5 L451.0,199.2 L452.0,196.8 L453.0,194.4 L454.0,192.0 L455.0,189.5 L456.0,187.0 L457.0,184.5 L458.0,181.9 L459.0,179.1 L460.0,176.4 L461.0,173.7 L462.0,171.3 L463.0,169.1 L464.0,166.9 L465.0,164.9 L466.0,162.9 L467.0,161.0 L468.0,159.1 L469.0,157.3 L470.0,155.5 L471.0,153.7 L472.0,152.0 L473.0,150.4 L474.0,148.8 L475.0,147.2 L476.0,145.7 L477.0,144.2 L478.0,142.8 L479.0,141.4 L480.0,140.0 L481.0,138.7 L482.0,137.4 L483.0,136.2 L484.0,135.1 L485.0,134.1 L486.0,133.2 L487.0,132.5 L488.0,131.9 L489.0,131.4 L490.0,131.0 L491.0,130.7 L492.0,130.5 L493.0,130.4 L494.0,130.3 L495.0,130.3 L496.0,130.4 L497.0,130.4 L498.0,130.6 L499.0,130.8 L500.0,131.0 L501.0,131.2 L502.0,131.5 L503.0,131.9 L504.0,132.2 L505.0,132.6 L506.0,133.0 L507.0,133.4 L508.0,133.8 L509.0,134.3 L510.0,134.7 L511.0,135.2 L512.0,135.7 L513.0,136.2 L514.0,136.8 L515.0,137.3 L516.0,137.9 L517.0,138.6 L518.0,139.2 L519.0,139.9 L520.0,140.6 L521.0,141.3 L522.0,142.0 L523.0,142.8 L524.0,143.6 L525.0,144.4 L526.0,145.2 L527.0,146.0 L528.0,146.9 L529.0,147.8 L530.0,148.6 L531.0,149.5 L532.0,150.4 L533.0,151.2 L534.0,152.0 L535.0,152.8 L536.0,153.5 L537.0,154.2 L538.0,154.8 L539.0,155.5 L540.0,156.1 L541.0,156.7 L542.0,157.3 L543.0,158.0 L544.0,158.7 L545.0,159.5 L546.0,160.3 L547.0,161.1 L548.0,162.0 L549.0,163.0 L550.0,164.0 L551.0,165.0 L552.0,166.0 L553.0,167.1 L554.0,168.1 L555.0,169.2 L556.0,170.3 L557.0,171.3 L558.0,172.4 L559.0,173.5 L560.0,174.6 L561.0,175.7 L562.0,176.9 L563.0,178.0 L564.0,179.1 L565.0,180.3 L566.0,181.5 L567.0,182.6 L568.0,183.8 L569.0,184.9 L570.0,186.1 L571.0,187.2 L572.0,188.3 L573.0,189.3 L574.0,190.4 L575.0,191.4 L576.0,192.5 L577.0,193.5 L578.0,194.5 L579.0,195.4 L580.0,196.4 L581.0,197.3 L582.0,198.1 L583.0,199.0 L584.0,199.9 L585.4,201.0 L586.0,204.2 L587.0,209.3 L588.0,214.1 L589.0,218.8 L590.0,223.3 L591.0,227.6 L592.0,231.5 L593.0,235.2 L594.0,238.7 L595.0,242.2 L596.0,245.8 L597.0,249.5 L598.0,253.1 L599.0,256.6 L600.0,259.9 L601.0,263.1 L602.0,266.2 L603.0,269.3 L604.0,272.3 L605.0,275.3 L606.0,278.2 L607.0,281.2 L608.0,284.1 L609.0,287.0 L610.0,290.0 L611.0,293.1 L612.0,296.3 L613.0,299.5 L614.0,302.6 L615.0,305.7 L616.0,308.7 L617.0,311.6 L618.0,314.4 L619.0,317.1 L620.0,319.7 L621.0,322.3 L622.0,324.9 L623.0,327.3 L624.0,329.8 L625.0,332.2 L626.0,334.5 L627.0,336.7 L628.0,338.8 L629.0,340.8 L630.0,342.7 L631.0,344.5 L632.0,346.2 L633.0,347.8 L634.0,349.3 L635.0,350.7 L636.0,352.0 L637.0,353.3 L638.0,354.4 L639.0,355.5 L640.0,356.4 L641.0,357.3 L642.0,358.1 L643.0,358.8 L644.0,359.4 L645.0,360.1 L646.0,360.7 L647.0,361.2 L648.0,361.8 L649.0,362.3 L650.0,362.7 L651.0,363.2 L652.0,363.6 L653.0,364.1 L654.0,364.6 L655.0,365.0 L656.0,365.4 L657.0,365.8 L658.0,366.1 L659.0,366.4 L660.0,366.7 L661.0,366.9 L662.0,367.1 L663.0,367.3 L664.0,367.4 L665.0,367.5 L666.0,367.5 L667.0,367.6 L668.0,367.7 L669.0,367.7 L670.0,367.8 L671.0,367.8 L672.0,367.8 L673.0,367.8 L674.0,367.8 L675.0,367.8 L700.0,367.8 L729.5,367.8"/>
<path stroke="#ff0000" d="M149.2,365.1 L151.2,364.8 L153.2,364.4 L155.2,364.0 L157.2,363.6 L159.2,363.1 L161.2,362.6 L163.2,362.1 L165.2,361.5 L167.2,360.9 L169.2,360.2 L171.2,359.6 L173.2,359.0 L175.2,358.3 L177.2,357.7 L179.2,357.1 L181.2,356.5 L183.2,355.9 L185.2,355.3 L187.2,354.7 L189.2,354.0 L191.2,353.3 L193.2,352.6 L195.2,351.8 L197.2,351.0 L199.2,350.2 L201.2,349.2 L203.2,348.3 L205.2,347.2 L207.2,346.1 L209.2,345.0 L211.2,343.8 L213.2,342.6 L215.2,341.4 L217.2,340.2 L219.2,338.9 L221.2,337.7 L223.2,336.4 L225.2,335.1 L227.2,333.8 L229.2,332.5 L231.2,331.1 L233.2,329.7 L235.2,328.2 L237.2,326.8 L239.2,325.3 L241.2,323.8 L243.2,322.2 L245.2,320.7 L247.2,319.1 L249.2,317.5 L251.2,315.8 L253.2,314.1 L255.2,312.4 L257.2,310.6 L259.2,308.8 L261.2,307.1 L263.2,305.3 L265.2,303.5 L267.2,301.8 L269.2,300.0 L271.2,298.2 L273.2,296.4 L275.2,294.6 L277.2,292.7 L279.2,291.0 L281.2,289.2 L283.2,287.6 L285.2,286.0 L287.2,284.5 L289.2,283.1 L290.0,282.6 L290.5,282.3 L291.0,281.9 L291.5,281.6 L292.0,281.3 L292.5,281.0 L293.0,280.6 L293.5,280.3 L294.0,280.0 L294.5,279.7 L295.0,279.0 L295.5,278.4 L296.0,277.7 L296.5,277.0 L297.0,276.3 L297.5,275.6 L298.0,275.0 L298.5,274.3 L299.0,273.6 L299.5,272.9 L300.0,272.2 L301.0,270.7 L302.0,269.3 L303.0,267.8 L304.0,266.4 L305.0,264.9 L306.0,263.4 L307.0,261.9 L308.0,260.4 L309.0,258.8 L310.0,257.3 L311.0,255.7 L312.0,254.1 L313.0,252.5 L314.0,250.9 L315.0,249.2 L316.0,247.6 L317.0,245.9 L318.0,244.1 L319.0,242.4 L320.0,240.6 L321.0,238.7 L322.0,236.7 L323.0,234.7 L324.0,232.7 L325.0,230.8 L326.0,228.9 L327.0,227.1 L328.0,225.5 L329.0,224.0 L330.0,222.6 L331.0,221.3 L332.0,220.1 L333.0,218.9 L334.0,217.8 L335.0,216.7 L336.0,215.6 L337.0,214.6 L338.0,213.5 L339.0,212.5 L340.0,211.5 L341.0,210.5 L342.0,209.6 L343.0,208.6 L344.0,207.7 L345.0,206.7 L346.0,205.6 L347.0,204.6 L348.0,203.5 L349.0,202.5 L350.0,201.6 L351.0,200.8 L352.0,200.0 L353.0,199.3 L354.0,198.7 L355.0,198.1 L356.0,197.6 L357.0,197.1 L358.0,196.6 L359.0,196.2 L360.0,195.9 L361.0,195.6 L362.0,195.3 L363.0,195.0 L364.0,194.7 L365.0,194.4 L366.0,194.2 L367.0,193.9 L368.0,193.7 L369.0,193.5 L370.0,193.2 L371.0,193.0 L372.0,192.8 L373.0,192.5 L374.0,192.3 L375.0,192.1 L376.0,191.9 L377.0,191.7 L378.0,191.4 L379.0,191.2 L380.0,191.0 L381.0,190.8 L382.0,190.6 L383.0,190.4 L384.0,190.2 L385.0,190.0 L386.0,189.8 L387.0,189.5 L388.0,189.3 L389.0,189.0 L390.0,188.7 L391.0,188.5 L392.0,188.2 L393.0,187.8 L394.0,187.5 L395.0,187.2 L396.0,186.8 L397.0,186.4 L398.0,186.0 L399.0,185.6 L400.0,185.1 L401.0,184.7 L402.0,184.2 L403.0,183.8 L404.0,183.3 L405.0,182.8 L406.0,182.2 L407.0,181.7 L408.0,181.1 L409.0,180.5 L410.0,179.9 L411.0,179.3 L412.0,178.7 L413.0,178.1 L414.0,177.5 L415.0,176.9 L416.0,176.3 L417.0,175.8 L418.0,175.2 L419.0,174.7 L420.0,174.2 L421.0,173.9 L422.0,173.6 L423.0,173.4 L424.0,173.3 L425.0,173.2 L426.0,173.2 L427.0,173.2 L428.0,173.4 L429.0,173.6 L430.0,173.9 L430.2,174.0 L430.4,174.0 L430.6,174.1 L430.8,174.2 L431.0,174.3 L431.2,174.4 L431.4,174.5 L431.6,174.6 L431.8,174.8 L432.0,174.9 L432.2,175.0 L432.4,175.2 L432.6,175.4 L432.8,175.5 L433.0,175.7 L433.2,175.9 L433.4,176.1 L433.6,176.3 L433.8,176.5 L434.0,176.7 L434.2,176.9 L434.4,177.2 L434.6,177.4 L434.8,177.7 L435.0,177.9 L435.2,178.1 L435.4,178.4 L435.6,178.7 L435.8,179.0 L436.0,179.3 L436.2,179.6 L436.4,180.0 L436.6,180.3 L436.8,180.7 L437.0,181.1 L437.2,181.6 L437.4,182.0 L437.6,182.5 L437.8,183.0 L438.0,183.6 L438.2,184.1 L438.4,184.8 L438.6,185.4 L438.8,186.2 L439.0,187.1 L439.2,188.2 L439.4,189.5 L439.6,191.4 L439.8,195.4 L440.0,200.5 L440.2,205.2 L440.4,208.3 L440.6,209.9 L440.8,211.3 L441.0,212.7 L441.2,214.0 L441.4,215.2 L441.6,216.3 L441.8,217.3 L442.0,218.2 L442.2,219.1 L442.4,220.0 L442.6,220.8 L442.8,221.5 L443.0,222.2 L443.2,222.8 L443.4,223.4 L443.6,224.0 L443.8,224.6 L444.0,225.2 L444.2,225.7 L444.4,226.2 L444.6,226.8 L444.8,227.3 L445.0,227.8 L445.2,228.4 L445.4,229.0 L445.6,229.5 L445.8,230.1 L446.0,230.7 L447.0,233.2 L448.0,235.5 L449.0,237.7 L450.0,240.0 L451.0,242.2 L452.0,244.4 L453.0,246.6 L454.0,248.9 L455.0,251.2 L456.0,253.5 L457.0,255.8 L458.0,258.2 L459.0,260.6 L460.0,263.1 L461.0,265.7 L462.0,268.4 L463.0,271.0 L464.0,273.6 L465.0,276.2 L466.0,278.8 L467.0,281.3 L468.0,283.9 L469.0,286.4 L470.0,288.9 L471.0,291.3 L472.0,293.7 L473.0,296.0 L474.0,298.4 L475.0,300.8 L476.0,303.2 L477.0,305.6 L478.0,308.0 L479.0,310.5 L480.0,313.0 L481.0,315.6 L482.0,318.3 L483.0,321.0 L484.0,323.6 L485.0,326.0 L486.0,328.1 L487.0,330.1 L488.0,331.9 L489.0,333.7 L490.0,335.4 L491.0,337.0 L492.0,338.6 L493.0,340.1 L494.0,341.5 L495.0,342.9 L496.0,344.1 L497.0,345.3 L498.0,346.4 L499.0,347.4 L500.0,348.3 L501.0,349.2 L502.0,349.9 L503.0,350.7 L504.0,351.3 L505.0,352.0 L506.0,352.6 L507.0,353.2 L508.0,353.7 L509.0,354.2 L510.0,354.7 L511.0,355.2 L512.0,355.6 L513.0,356.1 L514.0,356.4 L515.0,356.8 L516.0,357.2 L517.0,357.5 L518.0,357.8 L519.0,358.1 L520.0,358.4 L521.0,358.7 L522.0,358.9 L523.0,359.2 L524.0,359.4 L525.0,359.7 L526.0,359.9 L527.0,360.1 L528.0,360.3 L529.0,360.5 L530.0,360.6 L531.0,360.8 L532.0,360.9 L533.0,361.1 L534.0,361.2 L535.0,361.3 L536.0,361.5 L537.0,361.6 L538.0,361.7 L539.0,361.8 L540.0,361.9 L541.0,362.0 L542.0,362.1 L543.0,362.2 L544.0,362.3 L545.0,362.4 L546.0,362.5 L547.0,362.6 L548.0,362.7 L549.0,362.8 L550.0,362.9 L551.0,363.0 L552.0,363.1 L553.0,363.2 L554.0,363.3 L555.0,363.3 L556.0,363.4 L557.0,363.5 L558.0,363.5 L559.0,363.6 L560.0,363.6 L562.0,363.7 L564.0,363.8 L566.0,363.9 L568.0,364.0 L570.0,364.0 L572.0,364.1 L574.0,364.1 L576.0,364.2 L578.0,364.2 L580.0,364.3 L582.0,364.3 L584.0,364.3 L586.0,364.3 L588.0,364.4 L590.0,364.4 L592.0,364.4 L594.0,364.4 L596.0,364.4 L598.0,364.4 L600.0,364.4 L602.0,364.4 L604.0,364.4 L606.0,364.4 L608.0,364.4 L610.0,364.4 L612.0,364.5 L614.0,364.5 L616.0,364.5 L618.0,364.5 L620.0,364.5 L622.0,364.5 L624.0,364.5 L626.0,364.5 L628.0,364.6 L630.0,364.6 L632.0,364.6 L634.0,364.6 L636.0,364.7 L638.0,364.8 L640.0,364.8 L642.0,364.9 L644.0,365.1 L646.0,365.2 L648.0,365.3 L650.0,365.3 L652.0,365.4 L654.0,365.4 L656.0,365.4 L658.0,365.4 L660.0,365.3 L662.0,365.2 L664.0,365.0 L666.0,364.9 L668.0,364.8 L670.0,364.7 L672.0,364.6 L674.0,364.6 L676.0,364.5 L678.0,364.6 L680.0,364.6 L682.0,364.8 L684.0,364.9 L686.0,365.0 L688.0,365.1 L690.0,365.3 L692.0,365.4 L694.0,365.5 L696.0,365.7 L698.0,365.8 L700.0,365.8 L702.0,365.8 L704.0,365.8 L706.0,365.7 L708.0,365.6 L710.0,365.5 L712.0,365.3 L714.0,365.2 L716.0,365.1 L718.0,365.0 L720.0,364.9 L722.0,364.7 L724.0,364.6 L726.0,364.5 L728.0,364.3 L729.2,364.3"/>
<path stroke="#00008b" stroke-width="1.62" d="M148.6,367.8 L296.0,367.8 L298.0,367.8 L299.0,367.8 L300.0,367.8 L301.0,367.8 L302.0,367.8 L303.0,367.8 L304.0,367.8 L305.0,367.8 L306.0,367.8 L307.0,367.7 L308.0,367.7 L309.0,367.7 L310.0,367.7 L311.0,367.7 L312.0,367.6 L313.0,367.6 L314.0,367.6 L315.0,367.6 L316.0,367.6 L317.0,367.5 L318.0,367.5 L319.0,367.5 L320.0,367.5 L321.0,367.4 L322.0,367.4 L323.0,367.4 L324.0,367.4 L325.0,367.3 L326.0,367.3 L327.0,367.3 L328.0,367.2 L329.0,367.2 L330.0,367.1 L331.0,367.0 L332.0,366.9 L333.0,366.8 L334.0,366.6 L335.0,366.5 L336.0,366.3 L337.0,366.2 L338.0,366.0 L339.0,365.8 L340.0,365.6 L341.0,365.4 L342.0,365.2 L343.0,364.9 L344.0,364.7 L345.0,364.5 L346.0,364.2 L347.0,363.9 L348.0,363.7 L349.0,363.4 L350.0,363.1 L351.0,362.8 L352.0,362.5 L353.0,362.2 L354.0,361.9 L355.0,361.5 L356.0,361.2 L357.0,360.8 L358.0,360.5 L359.0,360.1 L360.0,359.7 L361.0,359.3 L362.0,358.8 L363.0,358.4 L364.0,357.9 L365.0,357.4 L366.0,356.9 L367.0,356.4 L368.0,355.8 L369.0,355.3 L370.0,354.7 L371.0,354.0 L372.0,353.4 L373.0,352.7 L374.0,352.1 L375.0,351.4 L376.0,350.6 L377.0,349.9 L378.0,349.2 L379.0,348.4 L380.0,347.6 L381.0,346.8 L382.0,345.9 L383.0,345.0 L384.0,344.1 L385.0,343.2 L386.0,342.2 L387.0,341.2 L388.0,340.1 L389.0,339.0 L390.0,337.8 L391.0,336.6 L392.0,335.3 L393.0,333.9 L394.0,332.5 L395.0,331.0 L396.0,329.5 L397.0,328.0 L398.0,326.4 L399.0,324.8 L400.0,323.3 L401.0,321.7 L402.0,320.0 L403.0,318.4 L404.0,316.7 L405.0,315.0 L406.0,313.3 L407.0,311.5 L408.0,309.6 L409.0,307.6 L410.0,305.6 L411.0,303.5 L412.0,301.2 L413.0,298.9 L414.0,296.6 L415.0,294.1 L416.0,291.6 L417.0,289.0 L418.0,286.3 L419.0,283.6 L420.0,280.7 L421.0,277.8 L422.0,274.7 L423.0,271.5 L424.0,268.1 L425.0,264.5 L426.0,260.9 L427.0,257.2 L428.0,253.3 L429.0,249.0 L430.0,244.6 L430.3,243.3 L430.6,241.9 L430.9,240.5 L431.2,239.0 L431.5,237.6 L431.8,236.1 L432.1,234.5 L432.4,233.0 L432.7,231.4 L433.0,229.8 L433.3,228.3 L433.6,226.6 L433.9,225.0 L434.2,223.3 L434.5,221.6 L434.8,219.9 L435.1,218.2 L435.4,216.5 L435.7,214.8 L436.0,213.1 L436.3,211.4 L436.6,209.8 L436.9,208.1 L437.2,206.4 L437.5,204.6 L437.8,202.9 L438.1,201.1 L438.4,199.4 L438.7,197.6 L438.9,196.4 L440.0,210.9 L440.3,225.5 L441.0,224.1 L442.0,222.0 L443.0,219.9 L444.0,217.8 L445.0,215.7 L446.0,213.6 L447.0,211.4 L448.0,209.2 L449.0,207.0 L450.0,204.7 L451.0,202.5 L452.0,200.2 L453.0,197.9 L454.0,195.5 L455.0,193.2 L456.0,190.8 L457.0,188.4 L458.0,186.0 L459.0,183.5 L460.0,180.9 L461.0,178.3 L462.0,175.7 L463.0,173.2 L464.0,170.9 L465.0,168.7 L466.0,166.5 L467.0,164.4 L468.0,162.3 L469.0,160.3 L470.0,158.4 L471.0,156.5 L472.0,154.7 L473.0,152.9 L474.0,151.3 L475.0,149.7 L476.0,148.2 L477.0,146.7 L478.0,145.3 L479.0,144.0 L480.0,142.8 L481.0,141.7 L482.0,140.6 L483.0,139.6 L484.0,138.7 L485.0,137.9 L486.0,137.2 L487.0,136.6 L488.0,136.0 L489.0,135.5 L490.0,135.1 L491.0,134.7 L492.0,134.4 L493.0,134.1 L494.0,133.9 L495.0,133.7 L496.0,133.5 L497.0,133.4 L498.0,133.3 L499.0,133.3 L500.0,133.3 L501.0,133.3 L502.0,133.4 L503.0,133.5 L504.0,133.7 L505.0,133.9 L506.0,134.1 L507.0,134.3 L508.0,134.5 L509.0,134.8 L510.0,135.1 L511.0,135.4 L512.0,135.7 L513.0,136.0 L514.0,136.4 L515.0,136.8 L516.0,137.2 L517.0,137.6 L518.0,138.0 L519.0,138.5 L520.0,139.0 L521.0,139.5 L522.0,140.0 L523.0,140.6 L524.0,141.2 L525.0,141.8 L526.0,142.4 L527.0,143.1 L528.0,143.8 L529.0,144.6 L530.0,145.4 L531.0,146.2 L532.0,147.0 L533.0,147.9 L534.0,148.9 L535.0,149.8 L536.0,150.8 L537.0,151.9 L538.0,153.0 L539.0,154.1 L540.0,155.2 L541.0,156.4 L542.0,157.6 L543.0,158.7 L544.0,159.9 L545.0,161.0 L546.0,162.1 L547.0,163.2 L548.0,164.3 L549.0,165.4 L550.0,166.6 L551.0,167.8 L552.0,169.1 L553.0,170.5 L554.0,171.9 L555.0,173.4 L556.0,174.9 L557.0,176.4 L558.0,178.0 L559.0,179.5 L560.0,180.9 L561.0,182.3 L562.0,183.5 L563.0,184.7 L564.0,185.8 L565.0,186.9 L566.0,187.9 L567.0,188.8 L568.0,189.7 L569.0,190.6 L570.0,191.5 L571.0,192.4 L572.0,193.3 L573.0,194.3 L574.0,195.2 L575.0,196.3 L576.0,197.3 L577.0,198.4 L578.0,199.5 L579.0,200.6 L580.0,201.8 L581.0,202.9 L582.0,204.1 L583.0,205.4 L584.0,206.7 L585.4,208.5 L586.0,211.1 L587.0,215.6 L588.0,220.2 L589.0,224.9 L590.0,229.8 L591.0,234.5 L592.0,238.8 L593.0,242.7 L594.0,246.4 L595.0,250.1 L596.0,254.2 L597.0,258.5 L598.0,262.8 L599.0,266.8 L600.0,270.4 L601.0,273.9 L602.0,277.3 L603.0,280.5 L604.0,283.7 L605.0,286.8 L606.0,289.8 L607.0,292.8 L608.0,295.7 L609.0,298.5 L610.0,301.4 L611.0,304.4 L612.0,307.3 L613.0,310.2 L614.0,313.1 L615.0,315.9 L616.0,318.6 L617.0,321.3 L618.0,323.8 L619.0,326.3 L620.0,328.7 L621.0,331.1 L622.0,333.3 L623.0,335.6 L624.0,337.8 L625.0,339.9 L626.0,342.0 L627.0,343.9 L628.0,345.7 L629.0,347.4 L630.0,349.0 L631.0,350.5 L632.0,351.9 L633.0,353.2 L634.0,354.4 L635.0,355.5 L636.0,356.5 L637.0,357.5 L638.0,358.4 L639.0,359.3 L640.0,360.0 L641.0,360.7 L642.0,361.3 L643.0,361.9 L644.0,362.5 L645.0,363.0 L646.0,363.4 L647.0,363.9 L648.0,364.3 L649.0,364.6 L650.0,365.0 L651.0,365.3 L652.0,365.6 L653.0,365.8 L654.0,366.1 L655.0,366.4 L656.0,366.6 L657.0,366.8 L658.0,367.0 L659.0,367.1 L660.0,367.2 L661.0,367.4 L662.0,367.5 L663.0,367.5 L664.0,367.6 L665.0,367.6 L666.0,367.7 L667.0,367.7 L668.0,367.7 L669.0,367.8 L670.0,367.8 L671.0,367.8 L672.0,367.8 L673.0,367.8 L674.0,367.8 L675.0,367.8 L700.0,367.8 L729.5,367.8"/>
<path stroke="#ff0000" d="M149.2,365.2 L151.2,364.9 L153.2,364.5 L155.2,364.2 L157.2,363.8 L159.2,363.3 L161.2,362.9 L163.2,362.4 L165.2,361.8 L167.2,361.2 L169.2,360.6 L171.2,360.0 L173.2,359.4 L175.2,358.8 L177.2,358.2 L179.2,357.7 L181.2,357.1 L183.2,356.5 L185.2,355.9 L187.2,355.3 L189.2,354.6 L191.2,354.0 L193.2,353.3 L195.2,352.5 L197.2,351.8 L199.2,350.9 L201.2,350.0 L203.2,349.1 L205.2,348.1 L207.2,347.0 L209.2,345.9 L211.2,344.8 L213.2,343.6 L215.2,342.5 L217.2,341.3 L219.2,340.0 L221.2,338.8 L223.2,337.6 L225.2,336.3 L227.2,335.0 L229.2,333.7 L231.2,332.3 L233.2,330.9 L235.2,329.5 L237.2,328.0 L239.2,326.6 L241.2,325.1 L243.2,323.6 L245.2,322.0 L247.2,320.5 L249.2,318.8 L251.2,317.2 L253.2,315.5 L255.2,313.7 L257.2,312.0 L259.2,310.2 L261.2,308.5 L263.2,306.7 L265.2,304.9 L267.2,303.2 L269.2,301.4 L271.2,299.6 L273.2,297.8 L275.2,295.9 L277.2,294.1 L279.2,292.3 L281.2,290.6 L283.2,288.9 L285.2,287.3 L287.2,285.8 L289.2,284.4 L290.0,283.8 L290.5,283.5 L291.0,283.2 L291.5,282.8 L292.0,282.5 L292.5,282.2 L293.0,281.8 L293.5,281.5 L294.0,281.2 L294.5,280.9 L295.0,280.2 L295.5,279.5 L296.0,278.8 L296.5,278.1 L297.0,277.4 L297.5,276.6 L298.0,275.9 L298.5,275.2 L299.0,274.5 L299.5,273.7 L300.0,273.0 L301.0,271.5 L302.0,270.1 L303.0,268.6 L304.0,267.1 L305.0,265.6 L306.0,264.1 L307.0,262.5 L308.0,261.0 L309.0,259.5 L310.0,257.9 L311.0,256.3 L312.0,254.7 L313.0,253.1 L314.0,251.4 L315.0,249.6 L316.0,247.8 L317.0,246.0 L318.0,244.2 L319.0,242.3 L320.0,240.5 L321.0,238.5 L322.0,236.5 L323.0,234.5 L324.0,232.5 L325.0,230.5 L326.0,228.6 L327.0,226.8 L328.0,225.1 L329.0,223.6 L330.0,222.3 L331.0,220.9 L332.0,219.7 L333.0,218.5 L334.0,217.3 L335.0,216.2 L336.0,215.1 L337.0,214.0 L338.0,212.9 L339.0,211.9 L340.0,210.8 L341.0,209.8 L342.0,208.9 L343.0,207.9 L344.0,206.9 L345.0,205.9 L346.0,204.8 L347.0,203.8 L348.0,202.7 L349.0,201.8 L350.0,200.8 L351.0,200.0 L352.0,199.2 L353.0,198.6 L354.0,197.9 L355.0,197.3 L356.0,196.8 L357.0,196.3 L358.0,195.9 L359.0,195.5 L360.0,195.1 L361.0,194.8 L362.0,194.5 L363.0,194.2 L364.0,193.9 L365.0,193.7 L366.0,193.4 L367.0,193.2 L368.0,192.9 L369.0,192.7 L370.0,192.5 L371.0,192.2 L372.0,192.0 L373.0,191.8 L374.0,191.6 L375.0,191.3 L376.0,191.1 L377.0,190.9 L378.0,190.7 L379.0,190.5 L380.0,190.3 L381.0,190.1 L382.0,189.9 L383.0,189.7 L384.0,189.4 L385.0,189.2 L386.0,189.0 L387.0,188.8 L388.0,188.5 L389.0,188.3 L390.0,188.0 L391.0,187.7 L392.0,187.4 L393.0,187.1 L394.0,186.8 L395.0,186.4 L396.0,186.0 L397.0,185.6 L398.0,185.2 L399.0,184.8 L400.0,184.4 L401.0,183.9 L402.0,183.5 L403.0,183.0 L404.0,182.5 L405.0,182.0 L406.0,181.5 L407.0,180.9 L408.0,180.4 L409.0,179.8 L410.0,179.2 L411.0,178.6 L412.0,178.0 L413.0,177.4 L414.0,176.7 L415.0,176.1 L416.0,175.6 L417.0,175.0 L418.0,174.5 L419.0,174.0 L420.0,173.5 L421.0,173.1 L422.0,172.8 L423.0,172.6 L424.0,172.5 L425.0,172.4 L426.0,172.4 L427.0,172.5 L428.0,172.6 L429.0,172.8 L430.0,173.1 L430.2,173.2 L430.4,173.3 L430.6,173.4 L430.8,173.5 L431.0,173.5 L431.2,173.6 L431.4,173.8 L431.6,173.9 L431.8,174.0 L432.0,174.1 L432.2,174.3 L432.4,174.4 L432.6,174.6 L432.8,174.8 L433.0,175.0 L433.2,175.1 L433.4,175.3 L433.6,175.5 L433.8,175.8 L434.0,176.0 L434.2,176.2 L434.4,176.4 L434.6,176.7 L434.8,176.9 L435.0,177.1 L435.2,177.4 L435.4,177.7 L435.6,177.9 L435.8,178.2 L436.0,178.5 L436.2,178.9 L436.4,179.2 L436.6,179.6 L436.8,180.0 L437.0,180.4 L437.2,180.8 L437.4,181.3 L437.6,181.8 L437.8,182.3 L438.0,182.8 L438.2,183.4 L438.4,184.0 L438.6,184.7 L438.8,185.5 L439.0,186.4 L439.2,187.5 L439.4,188.8 L439.6,190.5 L439.8,193.5 L440.0,197.4 L440.2,201.6 L440.4,205.4 L440.6,208.0 L440.8,209.4 L441.0,210.7 L441.2,212.0 L441.4,213.1 L441.6,214.2 L441.8,215.2 L442.0,216.1 L442.2,216.9 L442.4,217.7 L442.6,218.5 L442.8,219.2 L443.0,219.9 L443.2,220.5 L443.4,221.1 L443.6,221.7 L443.8,222.3 L444.0,222.8 L444.2,223.3 L444.4,223.8 L444.6,224.4 L444.8,224.9 L445.0,225.4 L445.2,225.9 L445.4,226.5 L445.6,227.1 L445.8,227.6 L446.0,228.2 L447.0,230.7 L448.0,232.9 L449.0,235.2 L450.0,237.5 L451.0,239.8 L452.0,242.0 L453.0,244.3 L454.0,246.6 L455.0,248.9 L456.0,251.2 L457.0,253.6 L458.0,255.9 L459.0,258.3 L460.0,260.8 L461.0,263.4 L462.0,266.0 L463.0,268.5 L464.0,271.1 L465.0,273.7 L466.0,276.2 L467.0,278.8 L468.0,281.3 L469.0,283.8 L470.0,286.3 L471.0,288.8 L472.0,291.2 L473.0,293.6 L474.0,296.0 L475.0,298.4 L476.0,300.8 L477.0,303.3 L478.0,305.8 L479.0,308.3 L480.0,310.8 L481.0,313.4 L482.0,316.1 L483.0,318.7 L484.0,321.3 L485.0,323.6 L486.0,325.8 L487.0,327.8 L488.0,329.8 L489.0,331.6 L490.0,333.4 L491.0,335.1 L492.0,336.7 L493.0,338.3 L494.0,339.8 L495.0,341.2 L496.0,342.5 L497.0,343.7 L498.0,344.8 L499.0,345.9 L500.0,346.9 L501.0,347.8 L502.0,348.7 L503.0,349.5 L504.0,350.2 L505.0,350.9 L506.0,351.6 L507.0,352.2 L508.0,352.8 L509.0,353.4 L510.0,354.0 L511.0,354.5 L512.0,355.0 L513.0,355.4 L514.0,355.9 L515.0,356.3 L516.0,356.7 L517.0,357.0 L518.0,357.4 L519.0,357.7 L520.0,358.0 L521.0,358.3 L522.0,358.6 L523.0,358.8 L524.0,359.1 L525.0,359.3 L526.0,359.6 L527.0,359.8 L528.0,360.0 L529.0,360.2 L530.0,360.4 L531.0,360.5 L532.0,360.7 L533.0,360.8 L534.0,361.0 L535.0,361.1 L536.0,361.3 L537.0,361.4 L538.0,361.5 L539.0,361.6 L540.0,361.7 L541.0,361.9 L542.0,362.0 L543.0,362.1 L544.0,362.2 L545.0,362.3 L546.0,362.4 L547.0,362.5 L548.0,362.6 L549.0,362.7 L550.0,362.8 L551.0,362.9 L552.0,363.0 L553.0,363.1 L554.0,363.1 L555.0,363.2 L556.0,363.3 L557.0,363.4 L558.0,363.4 L559.0,363.5 L560.0,363.5 L562.0,363.6 L564.0,363.7 L566.0,363.8 L568.0,363.9 L570.0,363.9 L572.0,364.0 L574.0,364.1 L576.0,364.1 L578.0,364.1 L580.0,364.2 L582.0,364.2 L584.0,364.2 L586.0,364.2 L588.0,364.3 L590.0,364.3 L592.0,364.3 L594.0,364.3 L596.0,364.3 L598.0,364.3 L600.0,364.3 L602.0,364.3 L604.0,364.3 L606.0,364.3 L608.0,364.3 L610.0,364.3 L612.0,364.4 L614.0,364.4 L616.0,364.4 L618.0,364.4 L620.0,364.4 L622.0,364.4 L624.0,364.4 L626.0,364.5 L628.0,364.5 L630.0,364.5 L632.0,364.5 L634.0,364.5 L636.0,364.6 L638.0,364.7 L640.0,364.7 L642.0,364.9 L644.0,365.0 L646.0,365.1 L648.0,365.2 L650.0,365.2 L652.0,365.3 L654.0,365.3 L656.0,365.3 L658.0,365.3 L660.0,365.2 L662.0,365.1 L664.0,364.9 L666.0,364.8 L668.0,364.7 L670.0,364.6 L672.0,364.5 L674.0,364.5 L676.0,364.4 L678.0,364.5 L680.0,364.6 L682.0,364.7 L684.0,364.8 L686.0,364.9 L688.0,365.0 L690.0,365.2 L692.0,365.3 L694.0,365.4 L696.0,365.6 L698.0,365.7 L700.0,365.7 L702.0,365.7 L704.0,365.7 L706.0,365.6 L708.0,365.5 L710.0,365.4 L712.0,365.2 L714.0,365.1 L716.0,365.0 L718.0,364.9 L720.0,364.8 L722.0,364.6 L724.0,364.5 L726.0,364.4 L728.0,364.2 L729.2,364.2"/>
<path stroke="#00008b" stroke-width="1.62" d="M148.6,367.8 L296.0,367.8 L298.0,367.8 L299.0,367.8 L300.0,367.8 L301.0,367.8 L302.0,367.8 L303.0,367.8 L304.0,367.8 L305.0,367.8 L306.0,367.8 L307.0,367.8 L308.0,367.8 L309.0,367.7 L310.0,367.7 L311.0,367.7 L312.0,367.7 L313.0,367.7 L314.0,367.7 L315.0,367.7 L316.0,367.7 L317.0,367.6 L318.0,367.6 L319.0,367.6 L320.0,367.6 L321.0,367.6 L322.0,367.6 L323.0,367.5 L324.0,367.5 L325.0,367.5 L326.0,367.5 L327.0,367.4 L328.0,367.4 L329.0,367.3 L330.0,367.3 L331.0,367.2 L332.0,367.1 L333.0,367.0 L334.0,366.9 L335.0,366.8 L336.0,366.6 L337.0,366.5 L338.0,366.3 L339.0,366.1 L340.0,365.9 L341.0,365.7 L342.0,365.5 L343.0,365.3 L344.0,365.1 L345.0,364.8 L346.0,364.6 L347.0,364.4 L348.0,364.1 L349.0,363.8 L350.0,363.6 L351.0,363.3 L352.0,363.0 L353.0,362.7 L354.0,362.4 L355.0,362.1 L356.0,361.7 L357.0,361.4 L358.0,361.1 L359.0,360.7 L360.0,360.3 L361.0,360.0 L362.0,359.6 L363.0,359.2 L364.0,358.7 L365.0,358.3 L366.0,357.8 L367.0,357.3 L368.0,356.8 L369.0,356.3 L370.0,355.7 L371.0,355.1 L372.0,354.5 L373.0,353.9 L374.0,353.3 L375.0,352.6 L376.0,351.9 L377.0,351.3 L378.0,350.5 L379.0,349.8 L380.0,349.1 L381.0,348.3 L382.0,347.5 L383.0,346.7 L384.0,345.8 L385.0,344.9 L386.0,344.0 L387.0,343.1 L388.0,342.1 L389.0,341.1 L390.0,340.0 L391.0,338.8 L392.0,337.7 L393.0,336.4 L394.0,335.1 L395.0,333.8 L396.0,332.4 L397.0,331.0 L398.0,329.5 L399.0,328.1 L400.0,326.6 L401.0,325.0 L402.0,323.5 L403.0,321.9 L404.0,320.3 L405.0,318.7 L406.0,317.0 L407.0,315.2 L408.0,313.4 L409.0,311.5 L410.0,309.4 L411.0,307.3 L412.0,305.2 L413.0,302.9 L414.0,300.6 L415.0,298.2 L416.0,295.8 L417.0,293.3 L418.0,290.8 L419.0,288.2 L420.0,285.6 L421.0,282.9 L422.0,280.0 L423.0,277.0 L424.0,273.9 L425.0,270.6 L426.0,267.2 L427.0,263.7 L428.0,259.8 L429.0,255.6 L430.0,251.3 L430.3,250.0 L430.6,248.7 L430.9,247.3 L431.2,246.0 L431.5,244.6 L431.8,243.1 L432.1,241.7 L432.4,240.2 L432.7,238.7 L433.0,237.2 L433.3,235.6 L433.6,234.1 L433.9,232.5 L434.2,230.8 L434.5,229.2 L434.8,227.5 L435.1,225.8 L435.4,224.1 L435.7,222.4 L436.0,220.6 L436.3,218.9 L436.6,217.1 L436.9,215.2 L437.2,213.3 L437.5,211.3 L437.8,209.3 L438.1,207.3 L438.4,205.2 L438.7,203.1 L438.9,201.7 L440.1,215.8 L440.4,230.0 L441.0,228.6 L442.0,226.4 L443.0,224.1 L444.0,221.8 L445.0,219.5 L446.0,217.3 L447.0,215.0 L448.0,212.7 L449.0,210.4 L450.0,208.1 L451.0,205.8 L452.0,203.5 L453.0,201.2 L454.0,199.0 L455.0,196.7 L456.0,194.4 L457.0,192.1 L458.0,189.7 L459.0,187.4 L460.0,185.0 L461.0,182.6 L462.0,180.1 L463.0,177.6 L464.0,175.1 L465.0,172.7 L466.0,170.4 L467.0,168.2 L468.0,165.9 L469.0,163.8 L470.0,161.7 L471.0,159.6 L472.0,157.7 L473.0,155.8 L474.0,154.0 L475.0,152.4 L476.0,150.8 L477.0,149.3 L478.0,147.8 L479.0,146.5 L480.0,145.2 L481.0,144.0 L482.0,142.9 L483.0,141.8 L484.0,140.8 L485.0,140.0 L486.0,139.2 L487.0,138.5 L488.0,138.0 L489.0,137.5 L490.0,137.1 L491.0,136.8 L492.0,136.5 L493.0,136.3 L494.0,136.1 L495.0,135.9 L496.0,135.8 L497.0,135.7 L498.0,135.6 L499.0,135.6 L500.0,135.6 L501.0,135.6 L502.0,135.7 L503.0,135.8 L504.0,136.0 L505.0,136.2 L506.0,136.5 L507.0,136.7 L508.0,137.0 L509.0,137.4 L510.0,137.7 L511.0,138.1 L512.0,138.4 L513.0,138.9 L514.0,139.3 L515.0,139.7 L516.0,140.2 L517.0,140.7 L518.0,141.2 L519.0,141.8 L520.0,142.3 L521.0,142.9 L522.0,143.5 L523.0,144.2 L524.0,144.8 L525.0,145.5 L526.0,146.3 L527.0,147.0 L528.0,147.8 L529.0,148.6 L530.0,149.4 L531.0,150.3 L532.0,151.2 L533.0,152.1 L534.0,153.0 L535.0,153.9 L536.0,154.8 L537.0,155.8 L538.0,156.7 L539.0,157.7 L540.0,158.7 L541.0,159.7 L542.0,160.7 L543.0,161.7 L544.0,162.7 L545.0,163.7 L546.0,164.7 L547.0,165.7 L548.0,166.6 L549.0,167.6 L550.0,168.6 L551.0,169.5 L552.0,170.4 L553.0,171.3 L554.0,172.2 L555.0,173.0 L556.0,173.9 L557.0,174.7 L558.0,175.5 L559.0,176.4 L560.0,177.2 L561.0,178.1 L562.0,178.9 L563.0,179.8 L564.0,180.7 L565.0,181.5 L566.0,182.4 L567.0,183.3 L568.0,184.2 L569.0,185.1 L570.0,186.1 L571.0,187.0 L572.0,187.9 L573.0,188.8 L574.0,189.7 L575.0,190.6 L576.0,191.5 L577.0,192.4 L578.0,193.3 L579.0,194.2 L580.0,195.1 L581.0,196.0 L582.0,196.9 L583.0,197.8 L584.0,198.7 L585.4,199.9 L586.0,203.1 L587.0,208.3 L588.0,213.1 L589.0,217.6 L590.0,221.9 L591.0,226.0 L592.0,229.8 L593.0,233.3 L594.0,236.6 L595.0,239.9 L596.0,243.2 L597.0,246.6 L598.0,250.0 L599.0,253.3 L600.0,256.4 L601.0,259.5 L602.0,262.5 L603.0,265.5 L604.0,268.5 L605.0,271.5 L606.0,274.4 L607.0,277.3 L608.0,280.2 L609.0,283.2 L610.0,286.2 L611.0,289.3 L612.0,292.6 L613.0,295.9 L614.0,299.2 L615.0,302.3 L616.0,305.4 L617.0,308.3 L618.0,311.2 L619.0,314.0 L620.0,316.7 L621.0,319.4 L622.0,322.0 L623.0,324.6 L624.0,327.1 L625.0,329.6 L626.0,332.0 L627.0,334.3 L628.0,336.5 L629.0,338.6 L630.0,340.6 L631.0,342.5 L632.0,344.3 L633.0,346.1 L634.0,347.6 L635.0,349.1 L636.0,350.5 L637.0,351.9 L638.0,353.1 L639.0,354.2 L640.0,355.2 L641.0,356.1 L642.0,357.0 L643.0,357.7 L644.0,358.4 L645.0,359.1 L646.0,359.7 L647.0,360.3 L648.0,360.9 L649.0,361.5 L650.0,362.0 L651.0,362.5 L652.0,363.0 L653.0,363.5 L654.0,364.0 L655.0,364.6 L656.0,365.1 L657.0,365.5 L658.0,365.9 L659.0,366.2 L660.0,366.5 L661.0,366.7 L662.0,367.0 L663.0,367.2 L664.0,367.3 L665.0,367.4 L666.0,367.5 L667.0,367.6 L668.0,367.7 L669.0,367.7 L670.0,367.8 L671.0,367.8 L672.0,367.8 L673.0,367.8 L674.0,367.8 L675.0,367.8 L700.0,367.8 L729.5,367.8"/>
<path stroke="#ff0000" d="M149.2,365.2 L151.2,364.9 L153.2,364.6 L155.2,364.3 L157.2,363.9 L159.2,363.5 L161.2,363.1 L163.2,362.6 L165.2,362.1 L167.2,361.5 L169.2,361.0 L171.2,360.4 L173.2,359.8 L175.2,359.3 L177.2,358.7 L179.2,358.2 L181.2,357.6 L183.2,357.0 L185.2,356.5 L187.2,355.9 L189.2,355.3 L191.2,354.6 L193.2,353.9 L195.2,353.2 L197.2,352.5 L199.2,351.7 L201.2,350.8 L203.2,349.9 L205.2,348.9 L207.2,347.9 L209.2,346.8 L211.2,345.7 L213.2,344.6 L215.2,343.4 L217.2,342.3 L219.2,341.1 L221.2,339.9 L223.2,338.7 L225.2,337.4 L227.2,336.1 L229.2,334.8 L231.2,333.5 L233.2,332.1 L235.2,330.7 L237.2,329.3 L239.2,327.8 L241.2,326.3 L243.2,324.8 L245.2,323.3 L247.2,321.7 L249.2,320.1 L251.2,318.5 L253.2,316.8 L255.2,315.1 L257.2,313.3 L259.2,311.6 L261.2,309.8 L263.2,308.0 L265.2,306.3 L267.2,304.5 L269.2,302.7 L271.2,300.9 L273.2,299.1 L275.2,297.2 L277.2,295.4 L279.2,293.6 L281.2,291.8 L283.2,290.1 L285.2,288.5 L287.2,287.0 L289.2,285.6 L290.0,285.0 L290.5,284.7 L291.0,284.3 L291.5,284.0 L292.0,283.6 L292.5,283.3 L293.0,283.0 L293.5,282.7 L294.0,282.3 L294.5,282.0 L295.0,281.3 L295.5,280.6 L296.0,279.8 L296.5,279.1 L297.0,278.3 L297.5,277.6 L298.0,276.8 L298.5,276.1 L299.0,275.3 L299.5,274.6 L300.0,273.8 L301.0,272.3 L302.0,270.8 L303.0,269.3 L304.0,267.7 L305.0,266.2 L306.0,264.7 L307.0,263.2 L308.0,261.6 L309.0,260.1 L310.0,258.5 L311.0,256.9 L312.0,255.3 L313.0,253.6 L314.0,251.8 L315.0,250.0 L316.0,248.1 L317.0,246.1 L318.0,244.2 L319.0,242.3 L320.0,240.4 L321.0,238.4 L322.0,236.3 L323.0,234.2 L324.0,232.2 L325.0,230.2 L326.0,228.3 L327.0,226.5 L328.0,224.8 L329.0,223.3 L330.0,221.9 L331.0,220.5 L332.0,219.2 L333.0,218.0 L334.0,216.8 L335.0,215.7 L336.0,214.6 L337.0,213.5 L338.0,212.3 L339.0,211.2 L340.0,210.2 L341.0,209.1 L342.0,208.1 L343.0,207.1 L344.0,206.2 L345.0,205.1 L346.0,204.1 L347.0,203.0 L348.0,202.0 L349.0,201.0 L350.0,200.1 L351.0,199.2 L352.0,198.5 L353.0,197.8 L354.0,197.2 L355.0,196.6 L356.0,196.1 L357.0,195.6 L358.0,195.1 L359.0,194.7 L360.0,194.4 L361.0,194.1 L362.0,193.8 L363.0,193.5 L364.0,193.2 L365.0,192.9 L366.0,192.7 L367.0,192.4 L368.0,192.2 L369.0,192.0 L370.0,191.7 L371.0,191.5 L372.0,191.3 L373.0,191.0 L374.0,190.8 L375.0,190.6 L376.0,190.4 L377.0,190.2 L378.0,189.9 L379.0,189.7 L380.0,189.5 L381.0,189.3 L382.0,189.1 L383.0,188.9 L384.0,188.7 L385.0,188.5 L386.0,188.3 L387.0,188.0 L388.0,187.8 L389.0,187.5 L390.0,187.2 L391.0,187.0 L392.0,186.7 L393.0,186.3 L394.0,186.0 L395.0,185.7 L396.0,185.3 L397.0,184.9 L398.0,184.5 L399.0,184.1 L400.0,183.6 L401.0,183.2 L402.0,182.7 L403.0,182.3 L404.0,181.8 L405.0,181.3 L406.0,180.7 L407.0,180.2 L408.0,179.6 L409.0,179.0 L410.0,178.4 L411.0,177.8 L412.0,177.2 L413.0,176.6 L414.0,176.0 L415.0,175.4 L416.0,174.8 L417.0,174.3 L418.0,173.7 L419.0,173.2 L420.0,172.7 L421.0,172.4 L422.0,172.1 L423.0,171.9 L424.0,171.8 L425.0,171.7 L426.0,171.7 L427.0,171.7 L428.0,171.9 L429.0,172.1 L430.0,172.4 L430.2,172.5 L430.4,172.5 L430.6,172.6 L430.8,172.7 L431.0,172.8 L431.2,172.9 L431.4,173.0 L431.6,173.1 L431.8,173.3 L432.0,173.4 L432.2,173.5 L432.4,173.7 L432.6,173.9 L432.8,174.0 L433.0,174.2 L433.2,174.4 L433.4,174.6 L433.6,174.8 L433.8,175.0 L434.0,175.2 L434.2,175.4 L434.4,175.7 L434.6,175.9 L434.8,176.2 L435.0,176.4 L435.2,176.6 L435.4,176.9 L435.6,177.2 L435.8,177.5 L436.0,177.8 L436.2,178.1 L436.4,178.5 L436.6,178.8 L436.8,179.2 L437.0,179.6 L437.2,180.1 L437.4,180.5 L437.6,181.0 L437.8,181.5 L438.0,182.1 L438.2,182.6 L438.4,183.3 L438.6,184.0 L438.8,184.8 L439.0,185.8 L439.2,186.8 L439.4,188.1 L439.6,189.6 L439.8,192.1 L440.0,195.3 L440.2,198.8 L440.4,202.3 L440.6,205.4 L440.8,207.7 L441.0,209.1 L441.2,210.3 L441.4,211.3 L441.6,212.3 L441.8,213.3 L442.0,214.2 L442.2,215.0 L442.4,215.8 L442.6,216.5 L442.8,217.1 L443.0,217.8 L443.2,218.4 L443.4,218.9 L443.6,219.5 L443.8,220.0 L444.0,220.5 L444.2,221.0 L444.4,221.5 L444.6,222.0 L444.8,222.5 L445.0,223.0 L445.2,223.5 L445.4,224.1 L445.6,224.6 L445.8,225.2 L446.0,225.7 L447.0,228.1 L448.0,230.4 L449.0,232.6 L450.0,235.0 L451.0,237.3 L452.0,239.6 L453.0,242.0 L454.0,244.3 L455.0,246.7 L456.0,249.0 L457.0,251.3 L458.0,253.7 L459.0,256.1 L460.0,258.5 L461.0,261.0 L462.0,263.6 L463.0,266.1 L464.0,268.6 L465.0,271.2 L466.0,273.7 L467.0,276.2 L468.0,278.8 L469.0,281.3 L470.0,283.8 L471.0,286.3 L472.0,288.7 L473.0,291.1 L474.0,293.6 L475.0,296.0 L476.0,298.5 L477.0,301.0 L478.0,303.5 L479.0,306.1 L480.0,308.6 L481.0,311.2 L482.0,313.8 L483.0,316.4 L484.0,318.9 L485.0,321.3 L486.0,323.5 L487.0,325.6 L488.0,327.6 L489.0,329.5 L490.0,331.4 L491.0,333.1 L492.0,334.8 L493.0,336.5 L494.0,338.0 L495.0,339.5 L496.0,340.8 L497.0,342.1 L498.0,343.3 L499.0,344.4 L500.0,345.4 L501.0,346.4 L502.0,347.4 L503.0,348.3 L504.0,349.1 L505.0,349.9 L506.0,350.6 L507.0,351.3 L508.0,352.0 L509.0,352.6 L510.0,353.2 L511.0,353.8 L512.0,354.4 L513.0,354.8 L514.0,355.3 L515.0,355.7 L516.0,356.1 L517.0,356.5 L518.0,356.9 L519.0,357.2 L520.0,357.6 L521.0,357.9 L522.0,358.2 L523.0,358.5 L524.0,358.7 L525.0,359.0 L526.0,359.2 L527.0,359.5 L528.0,359.7 L529.0,359.9 L530.0,360.1 L531.0,360.3 L532.0,360.4 L533.0,360.6 L534.0,360.7 L535.0,360.9 L536.0,361.0 L537.0,361.2 L538.0,361.3 L539.0,361.4 L540.0,361.5 L541.0,361.7 L542.0,361.8 L543.0,361.9 L544.0,362.0 L545.0,362.1 L546.0,362.2 L547.0,362.3 L548.0,362.4 L549.0,362.5 L550.0,362.6 L551.0,362.7 L552.0,362.8 L553.0,362.9 L554.0,363.0 L555.0,363.1 L556.0,363.2 L557.0,363.3 L558.0,363.3 L559.0,363.4 L560.0,363.4 L562.0,363.5 L564.0,363.6 L566.0,363.7 L568.0,363.8 L570.0,363.8 L572.0,363.9 L574.0,364.0 L576.0,364.0 L578.0,364.1 L580.0,364.1 L582.0,364.1 L584.0,364.1 L586.0,364.2 L588.0,364.2 L590.0,364.2 L592.0,364.2 L594.0,364.2 L596.0,364.2 L598.0,364.2 L600.0,364.2 L602.0,364.2 L604.0,364.2 L606.0,364.2 L608.0,364.2 L610.0,364.2 L612.0,364.3 L614.0,364.3 L616.0,364.3 L618.0,364.3 L620.0,364.3 L622.0,364.3 L624.0,364.3 L626.0,364.4 L628.0,364.4 L630.0,364.4 L632.0,364.4 L634.0,364.4 L636.0,364.5 L638.0,364.6 L640.0,364.6 L642.0,364.8 L644.0,364.9 L646.0,365.0 L648.0,365.1 L650.0,365.2 L652.0,365.2 L654.0,365.2 L656.0,365.2 L658.0,365.2 L660.0,365.1 L662.0,365.0 L664.0,364.8 L666.0,364.7 L668.0,364.6 L670.0,364.5 L672.0,364.4 L674.0,364.4 L676.0,364.3 L678.0,364.4 L680.0,364.5 L682.0,364.6 L684.0,364.7 L686.0,364.8 L688.0,364.9 L690.0,365.1 L692.0,365.2 L694.0,365.3 L696.0,365.5 L698.0,365.6 L700.0,365.6 L702.0,365.6 L704.0,365.6 L706.0,365.5 L708.0,365.4 L710.0,365.3 L712.0,365.1 L714.0,365.0 L716.0,364.9 L718.0,364.8 L720.0,364.7 L722.0,364.5 L724.0,364.4 L726.0,364.3 L728.0,364.1 L729.2,364.1"/>
<path stroke="#00008b" stroke-width="1.62" d="M148.6,367.8 L296.0,367.8 L298.0,367.8 L299.0,367.8 L300.0,367.8 L301.0,367.8 L302.0,367.8 L303.0,367.8 L304.0,367.8 L305.0,367.8 L306.0,367.8 L307.0,367.8 L308.0,367.8 L309.0,367.8 L310.0,367.8 L311.0,367.8 L312.0,367.8 L313.0,367.8 L314.0,367.8 L315.0,367.8 L316.0,367.7 L317.0,367.7 L318.0,367.7 L319.0,367.7 L320.0,367.7 L321.0,367.7 L322.0,367.7 L323.0,367.7 L324.0,367.7 L325.0,367.7 L326.0,367.6 L327.0,367.6 L328.0,367.6 L329.0,367.5 L330.0,367.5 L331.0,367.4 L332.0,367.4 L333.0,367.3 L334.0,367.2 L335.0,367.0 L336.0,366.9 L337.0,366.8 L338.0,366.6 L339.0,366.4 L340.0,366.2 L341.0,366.1 L342.0,365.9 L343.0,365.7 L344.0,365.5 L345.0,365.2 L346.0,365.0 L347.0,364.8 L348.0,364.5 L349.0,364.3 L350.0,364.0 L351.0,363.7 L352.0,363.5 L353.0,363.2 L354.0,362.9 L355.0,362.6 L356.0,362.3 L357.0,362.0 L358.0,361.7 L359.0,361.3 L360.0,361.0 L361.0,360.7 L362.0,360.3 L363.0,359.9 L364.0,359.5 L365.0,359.1 L366.0,358.7 L367.0,358.2 L368.0,357.8 L369.0,357.3 L370.0,356.7 L371.0,356.2 L372.0,355.7 L373.0,355.1 L374.0,354.5 L375.0,353.9 L376.0,353.2 L377.0,352.6 L378.0,351.9 L379.0,351.3 L380.0,350.5 L381.0,349.8 L382.0,349.1 L383.0,348.3 L384.0,347.5 L385.0,346.7 L386.0,345.9 L387.0,345.0 L388.0,344.1 L389.0,343.1 L390.0,342.1 L391.0,341.1 L392.0,340.0 L393.0,338.9 L394.0,337.8 L395.0,336.5 L396.0,335.3 L397.0,334.0 L398.0,332.7 L399.0,331.3 L400.0,329.9 L401.0,328.4 L402.0,327.0 L403.0,325.5 L404.0,323.9 L405.0,322.3 L406.0,320.7 L407.0,319.0 L408.0,317.2 L409.0,315.3 L410.0,313.3 L411.0,311.2 L412.0,309.1 L413.0,306.9 L414.0,304.6 L415.0,302.3 L416.0,300.0 L417.0,297.6 L418.0,295.3 L419.0,292.9 L420.0,290.5 L421.0,288.0 L422.0,285.4 L423.0,282.6 L424.0,279.7 L425.0,276.6 L426.0,273.5 L427.0,270.2 L428.0,266.4 L429.0,262.3 L430.0,258.1 L430.3,256.8 L430.6,255.5 L430.9,254.2 L431.2,252.9 L431.5,251.5 L431.8,250.2 L432.1,248.8 L432.4,247.4 L432.7,246.0 L433.0,244.5 L433.3,243.0 L433.6,241.5 L433.9,239.9 L434.2,238.4 L434.5,236.8 L434.8,235.1 L435.1,233.5 L435.4,231.7 L435.7,230.0 L436.0,228.2 L436.3,226.3 L436.6,224.3 L436.9,222.3 L437.2,220.2 L437.5,218.0 L437.8,215.8 L438.1,213.5 L438.4,211.1 L438.7,208.7 L438.9,207.0 L440.2,222.0 L440.5,237.0 L441.0,235.8 L442.0,233.3 L443.0,230.8 L444.0,228.4 L445.0,226.0 L446.0,223.6 L447.0,221.2 L448.0,218.9 L449.0,216.5 L450.0,214.2 L451.0,211.9 L452.0,209.7 L453.0,207.4 L454.0,205.3 L455.0,203.1 L456.0,201.1 L457.0,199.0 L458.0,197.0 L459.0,195.0 L460.0,192.9 L461.0,190.7 L462.0,188.4 L463.0,186.0 L464.0,183.5 L465.0,180.8 L466.0,178.1 L467.0,175.4 L468.0,172.7 L469.0,170.1 L470.0,167.4 L471.0,164.9 L472.0,162.4 L473.0,160.0 L474.0,157.8 L475.0,155.8 L476.0,153.9 L477.0,152.1 L478.0,150.5 L479.0,149.1 L480.0,147.7 L481.0,146.5 L482.0,145.3 L483.0,144.2 L484.0,143.2 L485.0,142.3 L486.0,141.5 L487.0,140.8 L488.0,140.2 L489.0,139.7 L490.0,139.3 L491.0,139.0 L492.0,138.7 L493.0,138.5 L494.0,138.3 L495.0,138.2 L496.0,138.2 L497.0,138.1 L498.0,138.2 L499.0,138.2 L500.0,138.4 L501.0,138.6 L502.0,138.8 L503.0,139.1 L504.0,139.5 L505.0,139.8 L506.0,140.2 L507.0,140.7 L508.0,141.1 L509.0,141.6 L510.0,142.1 L511.0,142.6 L512.0,143.1 L513.0,143.7 L514.0,144.3 L515.0,144.9 L516.0,145.5 L517.0,146.1 L518.0,146.8 L519.0,147.5 L520.0,148.1 L521.0,148.8 L522.0,149.6 L523.0,150.3 L524.0,151.0 L525.0,151.8 L526.0,152.5 L527.0,153.3 L528.0,154.1 L529.0,154.8 L530.0,155.6 L531.0,156.4 L532.0,157.2 L533.0,157.9 L534.0,158.7 L535.0,159.4 L536.0,160.1 L537.0,160.8 L538.0,161.5 L539.0,162.1 L540.0,162.8 L541.0,163.5 L542.0,164.1 L543.0,164.8 L544.0,165.6 L545.0,166.4 L546.0,167.2 L547.0,168.1 L548.0,169.0 L549.0,170.0 L550.0,171.1 L551.0,172.1 L552.0,173.3 L553.0,174.5 L554.0,175.7 L555.0,176.9 L556.0,178.2 L557.0,179.5 L558.0,180.7 L559.0,181.9 L560.0,183.1 L561.0,184.3 L562.0,185.3 L563.0,186.4 L564.0,187.3 L565.0,188.3 L566.0,189.1 L567.0,190.0 L568.0,190.8 L569.0,191.7 L570.0,192.6 L571.0,193.4 L572.0,194.3 L573.0,195.3 L574.0,196.3 L575.0,197.3 L576.0,198.3 L577.0,199.4 L578.0,200.5 L579.0,201.7 L580.0,202.9 L581.0,204.1 L582.0,205.4 L583.0,206.7 L584.0,208.1 L585.4,210.0 L586.0,212.6 L587.0,216.9 L588.0,221.5 L589.0,226.3 L590.0,231.4 L591.0,236.3 L592.0,240.7 L593.0,244.8 L594.0,248.6 L595.0,252.6 L596.0,256.8 L597.0,261.4 L598.0,265.9 L599.0,270.1 L600.0,273.9 L601.0,277.5 L602.0,281.0 L603.0,284.3 L604.0,287.5 L605.0,290.7 L606.0,293.7 L607.0,296.6 L608.0,299.5 L609.0,302.4 L610.0,305.2 L611.0,308.1 L612.0,311.0 L613.0,313.8 L614.0,316.6 L615.0,319.3 L616.0,321.9 L617.0,324.5 L618.0,327.0 L619.0,329.4 L620.0,331.7 L621.0,334.0 L622.0,336.2 L623.0,338.3 L624.0,340.4 L625.0,342.5 L626.0,344.5 L627.0,346.3 L628.0,348.0 L629.0,349.6 L630.0,351.1 L631.0,352.5 L632.0,353.8 L633.0,355.0 L634.0,356.1 L635.0,357.1 L636.0,358.0 L637.0,358.9 L638.0,359.8 L639.0,360.5 L640.0,361.2 L641.0,361.8 L642.0,362.4 L643.0,363.0 L644.0,363.5 L645.0,364.0 L646.0,364.4 L647.0,364.7 L648.0,365.1 L649.0,365.4 L650.0,365.7 L651.0,366.0 L652.0,366.2 L653.0,366.4 L654.0,366.6 L655.0,366.8 L656.0,367.0 L657.0,367.1 L658.0,367.2 L659.0,367.3 L660.0,367.4 L661.0,367.5 L662.0,367.6 L663.0,367.6 L664.0,367.7 L665.0,367.7 L666.0,367.7 L667.0,367.7 L668.0,367.8 L669.0,367.8 L670.0,367.8 L671.0,367.8 L672.0,367.8 L673.0,367.8 L674.0,367.8 L675.0,367.8 L700.0,367.8 L729.5,367.8"/>
<path stroke="#ff0000" d="M149.2,365.3 L151.2,365.0 L153.2,364.7 L155.2,364.4 L157.2,364.1 L159.2,363.7 L161.2,363.3 L163.2,362.9 L165.2,362.4 L167.2,361.9 L169.2,361.3 L171.2,360.8 L173.2,360.3 L175.2,359.7 L177.2,359.2 L179.2,358.7 L181.2,358.1 L183.2,357.6 L185.2,357.1 L187.2,356.5 L189.2,355.9 L191.2,355.3 L193.2,354.6 L195.2,353.9 L197.2,353.2 L199.2,352.4 L201.2,351.6 L203.2,350.7 L205.2,349.8 L207.2,348.8 L209.2,347.8 L211.2,346.7 L213.2,345.6 L215.2,344.5 L217.2,343.3 L219.2,342.2 L221.2,341.0 L223.2,339.8 L225.2,338.6 L227.2,337.3 L229.2,336.0 L231.2,334.7 L233.2,333.3 L235.2,331.9 L237.2,330.5 L239.2,329.1 L241.2,327.6 L243.2,326.1 L245.2,324.6 L247.2,323.0 L249.2,321.5 L251.2,319.8 L253.2,318.1 L255.2,316.4 L257.2,314.7 L259.2,312.9 L261.2,311.2 L263.2,309.4 L265.2,307.7 L267.2,305.9 L269.2,304.1 L271.2,302.3 L273.2,300.4 L275.2,298.6 L277.2,296.7 L279.2,294.9 L281.2,293.1 L283.2,291.4 L285.2,289.8 L287.2,288.3 L289.2,286.8 L290.0,286.2 L290.5,285.9 L291.0,285.5 L291.5,285.2 L292.0,284.8 L292.5,284.5 L293.0,284.2 L293.5,283.8 L294.0,283.5 L294.5,283.2 L295.0,282.4 L295.5,281.7 L296.0,280.9 L296.5,280.1 L297.0,279.3 L297.5,278.6 L298.0,277.8 L298.5,277.0 L299.0,276.2 L299.5,275.5 L300.0,274.7 L301.0,273.1 L302.0,271.6 L303.0,270.0 L304.0,268.4 L305.0,266.9 L306.0,265.3 L307.0,263.8 L308.0,262.3 L309.0,260.8 L310.0,259.2 L311.0,257.6 L312.0,255.9 L313.0,254.1 L314.0,252.3 L315.0,250.3 L316.0,248.2 L317.0,246.1 L318.0,244.0 L319.0,241.9 L320.0,239.7 L321.0,237.5 L322.0,235.2 L323.0,232.8 L324.0,230.5 L325.0,228.2 L326.0,226.0 L327.0,223.9 L328.0,222.0 L329.0,220.2 L330.0,218.6 L331.0,217.0 L332.0,215.5 L333.0,214.1 L334.0,212.7 L335.0,211.4 L336.0,210.1 L337.0,208.8 L338.0,207.4 L339.0,206.1 L340.0,204.7 L341.0,203.4 L342.0,202.1 L343.0,200.9 L344.0,199.7 L345.0,198.5 L346.0,197.2 L347.0,196.0 L348.0,194.8 L349.0,193.7 L350.0,192.6 L351.0,191.6 L352.0,190.7 L353.0,189.9 L354.0,189.1 L355.0,188.3 L356.0,187.6 L357.0,186.9 L358.0,186.2 L359.0,185.7 L360.0,185.1 L361.0,184.6 L362.0,184.1 L363.0,183.6 L364.0,183.1 L365.0,182.7 L366.0,182.3 L367.0,181.9 L368.0,181.6 L369.0,181.2 L370.0,180.9 L371.0,180.6 L372.0,180.3 L373.0,180.0 L374.0,179.7 L375.0,179.5 L376.0,179.3 L377.0,179.0 L378.0,178.8 L379.0,178.6 L380.0,178.5 L381.0,178.3 L382.0,178.1 L383.0,177.9 L384.0,177.7 L385.0,177.6 L386.0,177.4 L387.0,177.2 L388.0,177.0 L389.0,176.7 L390.0,176.5 L391.0,176.3 L392.0,176.0 L393.0,175.7 L394.0,175.4 L395.0,175.1 L396.0,174.8 L397.0,174.4 L398.0,174.1 L399.0,173.7 L400.0,173.3 L401.0,172.9 L402.0,172.5 L403.0,172.1 L404.0,171.7 L405.0,171.2 L406.0,170.8 L407.0,170.3 L408.0,169.8 L409.0,169.3 L410.0,168.8 L411.0,168.3 L412.0,167.7 L413.0,167.2 L414.0,166.7 L415.0,166.2 L416.0,165.7 L417.0,165.3 L418.0,164.9 L419.0,164.5 L420.0,164.2 L421.0,163.9 L422.0,163.7 L423.0,163.5 L424.0,163.4 L425.0,163.4 L426.0,163.4 L427.0,163.5 L428.0,163.7 L429.0,163.8 L430.0,164.1 L430.2,164.1 L430.4,164.2 L430.6,164.2 L430.8,164.3 L431.0,164.4 L431.2,164.5 L431.4,164.6 L431.6,164.7 L431.8,164.8 L432.0,164.9 L432.2,165.1 L432.4,165.2 L432.6,165.3 L432.8,165.5 L433.0,165.7 L433.2,165.9 L433.4,166.0 L433.6,166.2 L433.8,166.4 L434.0,166.6 L434.2,166.8 L434.4,167.0 L434.6,167.2 L434.8,167.4 L435.0,167.6 L435.2,167.8 L435.4,168.1 L435.6,168.3 L435.8,168.5 L436.0,168.7 L436.2,169.0 L436.4,169.2 L436.6,169.5 L436.8,169.7 L437.0,170.0 L437.2,170.3 L437.4,170.6 L437.6,170.9 L437.8,171.3 L438.0,171.7 L438.2,172.1 L438.4,172.5 L438.6,172.9 L438.8,173.4 L439.0,174.0 L439.2,174.6 L439.4,175.4 L439.6,176.3 L439.8,177.5 L440.0,179.2 L440.2,183.4 L440.4,189.4 L440.6,196.0 L440.8,202.1 L441.0,206.7 L441.2,208.8 L441.4,210.0 L441.6,211.0 L441.8,212.0 L442.0,212.9 L442.2,213.7 L442.4,214.4 L442.6,215.1 L442.8,215.7 L443.0,216.3 L443.2,216.8 L443.4,217.2 L443.6,217.7 L443.8,218.1 L444.0,218.5 L444.2,218.9 L444.4,219.3 L444.6,219.7 L444.8,220.1 L445.0,220.5 L445.2,221.0 L445.4,221.5 L445.6,222.0 L445.8,222.5 L446.0,223.0 L447.0,225.4 L448.0,227.7 L449.0,229.9 L450.0,232.3 L451.0,234.7 L452.0,237.1 L453.0,239.5 L454.0,241.9 L455.0,244.2 L456.0,246.6 L457.0,248.9 L458.0,251.3 L459.0,253.7 L460.0,256.1 L461.0,258.5 L462.0,261.0 L463.0,263.5 L464.0,266.0 L465.0,268.5 L466.0,271.0 L467.0,273.5 L468.0,276.0 L469.0,278.6 L470.0,281.1 L471.0,283.6 L472.0,286.1 L473.0,288.5 L474.0,291.0 L475.0,293.5 L476.0,296.0 L477.0,298.6 L478.0,301.1 L479.0,303.7 L480.0,306.2 L481.0,308.8 L482.0,311.4 L483.0,313.9 L484.0,316.4 L485.0,318.8 L486.0,321.0 L487.0,323.2 L488.0,325.3 L489.0,327.3 L490.0,329.2 L491.0,331.0 L492.0,332.8 L493.0,334.5 L494.0,336.2 L495.0,337.7 L496.0,339.1 L497.0,340.4 L498.0,341.6 L499.0,342.8 L500.0,343.9 L501.0,344.9 L502.0,346.0 L503.0,347.0 L504.0,347.9 L505.0,348.7 L506.0,349.5 L507.0,350.3 L508.0,351.1 L509.0,351.8 L510.0,352.4 L511.0,353.1 L512.0,353.7 L513.0,354.2 L514.0,354.7 L515.0,355.2 L516.0,355.6 L517.0,356.0 L518.0,356.4 L519.0,356.8 L520.0,357.1 L521.0,357.4 L522.0,357.8 L523.0,358.1 L524.0,358.4 L525.0,358.6 L526.0,358.9 L527.0,359.2 L528.0,359.4 L529.0,359.6 L530.0,359.8 L531.0,360.0 L532.0,360.2 L533.0,360.3 L534.0,360.5 L535.0,360.7 L536.0,360.8 L537.0,360.9 L538.0,361.1 L539.0,361.2 L540.0,361.3 L541.0,361.5 L542.0,361.6 L543.0,361.7 L544.0,361.8 L545.0,361.9 L546.0,362.0 L547.0,362.2 L548.0,362.3 L549.0,362.4 L550.0,362.5 L551.0,362.6 L552.0,362.7 L553.0,362.8 L554.0,362.9 L555.0,363.0 L556.0,363.1 L557.0,363.2 L558.0,363.2 L559.0,363.3 L560.0,363.3 L562.0,363.4 L564.0,363.5 L566.0,363.6 L568.0,363.7 L570.0,363.7 L572.0,363.8 L574.0,363.9 L576.0,363.9 L578.0,363.9 L580.0,364.0 L582.0,364.0 L584.0,364.0 L586.0,364.0 L588.0,364.1 L590.0,364.1 L592.0,364.1 L594.0,364.1 L596.0,364.1 L598.0,364.1 L600.0,364.1 L602.0,364.1 L604.0,364.1 L606.0,364.1 L608.0,364.1 L610.0,364.1 L612.0,364.1 L614.0,364.2 L616.0,364.2 L618.0,364.2 L620.0,364.2 L622.0,364.2 L624.0,364.2 L626.0,364.2 L628.0,364.3 L630.0,364.3 L632.0,364.3 L634.0,364.3 L636.0,364.4 L638.0,364.5 L640.0,364.5 L642.0,364.6 L644.0,364.8 L646.0,364.9 L648.0,365.0 L650.0,365.0 L652.0,365.1 L654.0,365.1 L656.0,365.1 L658.0,365.1 L660.0,365.0 L662.0,364.9 L664.0,364.7 L666.0,364.6 L668.0,364.5 L670.0,364.4 L672.0,364.3 L674.0,364.3 L676.0,364.2 L678.0,364.3 L680.0,364.3 L682.0,364.5 L684.0,364.6 L686.0,364.7 L688.0,364.8 L690.0,365.0 L692.0,365.1 L694.0,365.2 L696.0,365.4 L698.0,365.5 L700.0,365.5 L702.0,365.5 L704.0,365.5 L706.0,365.4 L708.0,365.3 L710.0,365.2 L712.0,365.0 L714.0,364.9 L716.0,364.8 L718.0,364.7 L720.0,364.6 L722.0,364.4 L724.0,364.3 L726.0,364.2 L728.0,364.0 L729.2,364.0"/>
<path stroke="#00008b" stroke-width="1.62" d="M148.6,367.8 L296.0,367.8 L298.0,367.8 L299.0,367.8 L300.0,367.8 L301.0,367.8 L302.0,367.8 L303.0,367.8 L304.0,367.8 L305.0,367.8 L306.0,367.8 L307.0,367.8 L308.0,367.8 L309.0,367.8 L310.0,367.8 L311.0,367.8 L312.0,367.8 L313.0,367.8 L314.0,367.8 L315.0,367.8 L316.0,367.8 L317.0,367.8 L318.0,367.8 L319.0,367.8 L320.0,367.8 L321.0,367.8 L322.0,367.8 L323.0,367.8 L324.0,367.8 L325.0,367.8 L326.0,367.7 L327.0,367.7 L328.0,367.7 L329.0,367.7 L330.0,367.7 L331.0,367.7 L332.0,367.7 L333.0,367.6 L334.0,367.6 L335.0,367.5 L336.0,367.4 L337.0,367.3 L338.0,367.2 L339.0,367.1 L340.0,367.0 L341.0,366.8 L342.0,366.7 L343.0,366.6 L344.0,366.5 L345.0,366.4 L346.0,366.4 L347.0,366.3 L348.0,366.2 L349.0,366.2 L350.0,366.1 L351.0,366.1 L352.0,366.0 L353.0,365.9 L354.0,365.9 L355.0,365.8 L356.0,365.7 L357.0,365.5 L358.0,365.4 L359.0,365.2 L360.0,365.1 L361.0,364.9 L362.0,364.6 L363.0,364.4 L364.0,364.1 L365.0,363.8 L366.0,363.5 L367.0,363.1 L368.0,362.8 L369.0,362.4 L370.0,361.9 L371.0,361.5 L372.0,361.1 L373.0,360.6 L374.0,360.1 L375.0,359.7 L376.0,359.2 L377.0,358.7 L378.0,358.2 L379.0,357.7 L380.0,357.3 L381.0,356.8 L382.0,356.2 L383.0,355.7 L384.0,355.1 L385.0,354.6 L386.0,353.9 L387.0,353.3 L388.0,352.5 L389.0,351.7 L390.0,350.9 L391.0,349.9 L392.0,348.9 L393.0,347.8 L394.0,346.6 L395.0,345.3 L396.0,343.9 L397.0,342.5 L398.0,341.0 L399.0,339.4 L400.0,337.8 L401.0,336.2 L402.0,334.6 L403.0,333.0 L404.0,331.4 L405.0,329.9 L406.0,328.4 L407.0,326.8 L408.0,325.3 L409.0,323.8 L410.0,322.3 L411.0,320.7 L412.0,319.1 L413.0,317.3 L414.0,315.5 L415.0,313.6 L416.0,311.5 L417.0,309.3 L418.0,306.9 L419.0,304.4 L420.0,301.8 L421.0,299.0 L422.0,296.1 L423.0,293.0 L424.0,289.8 L425.0,286.6 L426.0,283.2 L427.0,279.8 L428.0,276.3 L429.0,272.8 L430.0,269.2 L430.3,268.1 L430.6,267.0 L430.9,265.8 L431.2,264.7 L431.5,263.5 L431.8,262.3 L432.1,261.0 L432.4,259.7 L432.7,258.4 L433.0,257.1 L433.3,255.8 L433.6,254.4 L433.9,253.0 L434.2,251.6 L434.5,250.2 L434.8,248.8 L435.1,247.4 L435.4,245.9 L435.7,244.5 L436.0,243.0 L436.3,241.5 L436.6,240.0 L436.9,238.5 L437.2,237.0 L437.5,235.4 L437.8,233.9 L438.1,232.3 L438.4,230.7 L438.7,229.1 L438.9,228.0 L440.4,236.5 L440.7,245.0 L441.0,244.2 L442.0,241.7 L443.0,239.1 L444.0,236.6 L445.0,234.1 L446.0,231.5 L447.0,229.0 L448.0,226.6 L449.0,224.1 L450.0,221.6 L451.0,219.2 L452.0,216.8 L453.0,214.3 L454.0,211.9 L455.0,209.5 L456.0,207.2 L457.0,204.8 L458.0,202.6 L459.0,200.3 L460.0,198.1 L461.0,195.9 L462.0,193.6 L463.0,191.2 L464.0,188.8 L465.0,186.2 L466.0,183.6 L467.0,180.9 L468.0,178.1 L469.0,175.3 L470.0,172.5 L471.0,169.7 L472.0,166.9 L473.0,164.2 L474.0,161.6 L475.0,159.3 L476.0,157.2 L477.0,155.3 L478.0,153.6 L479.0,152.2 L480.0,151.0 L481.0,149.9 L482.0,148.9 L483.0,148.1 L484.0,147.3 L485.0,146.6 L486.0,145.9 L487.0,145.3 L488.0,144.7 L489.0,144.2 L490.0,143.7 L491.0,143.2 L492.0,142.8 L493.0,142.4 L494.0,142.0 L495.0,141.7 L496.0,141.5 L497.0,141.3 L498.0,141.1 L499.0,141.0 L500.0,141.0 L501.0,141.0 L502.0,141.0 L503.0,141.1 L504.0,141.3 L505.0,141.5 L506.0,141.7 L507.0,141.9 L508.0,142.2 L509.0,142.4 L510.0,142.8 L511.0,143.1 L512.0,143.5 L513.0,143.9 L514.0,144.3 L515.0,144.7 L516.0,145.2 L517.0,145.7 L518.0,146.2 L519.0,146.8 L520.0,147.3 L521.0,147.9 L522.0,148.4 L523.0,149.0 L524.0,149.6 L525.0,150.2 L526.0,150.8 L527.0,151.4 L528.0,152.0 L529.0,152.7 L530.0,153.4 L531.0,154.1 L532.0,154.8 L533.0,155.6 L534.0,156.4 L535.0,157.2 L536.0,158.2 L537.0,159.1 L538.0,160.2 L539.0,161.3 L540.0,162.4 L541.0,163.5 L542.0,164.7 L543.0,165.9 L544.0,167.0 L545.0,168.1 L546.0,169.2 L547.0,170.3 L548.0,171.2 L549.0,172.2 L550.0,173.1 L551.0,173.9 L552.0,174.7 L553.0,175.4 L554.0,176.1 L555.0,176.7 L556.0,177.4 L557.0,178.0 L558.0,178.6 L559.0,179.2 L560.0,179.8 L561.0,180.5 L562.0,181.2 L563.0,181.9 L564.0,182.7 L565.0,183.5 L566.0,184.4 L567.0,185.3 L568.0,186.2 L569.0,187.1 L570.0,188.1 L571.0,189.0 L572.0,190.0 L573.0,191.0 L574.0,192.0 L575.0,193.0 L576.0,194.0 L577.0,195.0 L578.0,196.0 L579.0,197.0 L580.0,198.0 L581.0,199.0 L582.0,200.0 L583.0,201.0 L584.0,202.0 L585.4,203.5 L586.0,206.5 L587.0,211.4 L588.0,216.1 L589.0,220.8 L590.0,225.5 L591.0,229.9 L592.0,233.9 L593.0,237.7 L594.0,241.3 L595.0,244.8 L596.0,248.6 L597.0,252.5 L598.0,256.3 L599.0,260.0 L600.0,263.4 L601.0,266.7 L602.0,269.9 L603.0,273.0 L604.0,276.1 L605.0,279.1 L606.0,282.1 L607.0,285.0 L608.0,287.9 L609.0,290.9 L610.0,293.8 L611.0,296.9 L612.0,299.9 L613.0,303.1 L614.0,306.1 L615.0,309.1 L616.0,312.0 L617.0,314.8 L618.0,317.5 L619.0,320.2 L620.0,322.7 L621.0,325.2 L622.0,327.7 L623.0,330.1 L624.0,332.5 L625.0,334.8 L626.0,337.0 L627.0,339.1 L628.0,341.1 L629.0,343.0 L630.0,344.8 L631.0,346.5 L632.0,348.1 L633.0,349.6 L634.0,351.0 L635.0,352.3 L636.0,353.5 L637.0,354.7 L638.0,355.8 L639.0,356.7 L640.0,357.6 L641.0,358.4 L642.0,359.1 L643.0,359.8 L644.0,360.5 L645.0,361.0 L646.0,361.6 L647.0,362.1 L648.0,362.6 L649.0,363.0 L650.0,363.5 L651.0,363.9 L652.0,364.3 L653.0,364.7 L654.0,365.1 L655.0,365.5 L656.0,365.8 L657.0,366.1 L658.0,366.4 L659.0,366.6 L660.0,366.9 L661.0,367.0 L662.0,367.2 L663.0,367.4 L664.0,367.4 L665.0,367.5 L666.0,367.6 L667.0,367.6 L668.0,367.7 L669.0,367.7 L670.0,367.8 L671.0,367.8 L672.0,367.8 L673.0,367.8 L674.0,367.8 L675.0,367.8 L700.0,367.8 L729.5,367.8"/>
<path stroke="#ff0000" d="M149.2,365.3 L151.2,365.1 L153.2,364.9 L155.2,364.6 L157.2,364.3 L159.2,363.9 L161.2,363.6 L163.2,363.2 L165.2,362.7 L167.2,362.2 L169.2,361.7 L171.2,361.2 L173.2,360.7 L175.2,360.2 L177.2,359.7 L179.2,359.2 L181.2,358.7 L183.2,358.2 L185.2,357.6 L187.2,357.1 L189.2,356.5 L191.2,355.9 L193.2,355.3 L195.2,354.6 L197.2,353.9 L199.2,353.2 L201.2,352.4 L203.2,351.5 L205.2,350.6 L207.2,349.7 L209.2,348.7 L211.2,347.6 L213.2,346.6 L215.2,345.5 L217.2,344.4 L219.2,343.2 L221.2,342.1 L223.2,340.9 L225.2,339.7 L227.2,338.5 L229.2,337.2 L231.2,335.9 L233.2,334.5 L235.2,333.2 L237.2,331.8 L239.2,330.3 L241.2,328.9 L243.2,327.4 L245.2,325.9 L247.2,324.4 L249.2,322.8 L251.2,321.1 L253.2,319.5 L255.2,317.8 L257.2,316.1 L259.2,314.3 L261.2,312.6 L263.2,310.8 L265.2,309.1 L267.2,307.3 L269.2,305.5 L271.2,303.7 L273.2,301.8 L275.2,299.9 L277.2,298.1 L279.2,296.2 L281.2,294.4 L283.2,292.7 L285.2,291.0 L287.2,289.5 L289.2,288.0 L290.0,287.4 L290.5,287.1 L291.0,286.7 L291.5,286.4 L292.0,286.0 L292.5,285.7 L293.0,285.3 L293.5,285.0 L294.0,284.7 L294.5,284.3 L295.0,283.5 L295.5,282.7 L296.0,281.9 L296.5,281.1 L297.0,280.3 L297.5,279.5 L298.0,278.7 L298.5,277.9 L299.0,277.1 L299.5,276.3 L300.0,275.5 L301.0,273.9 L302.0,272.3 L303.0,270.7 L304.0,269.1 L305.0,267.5 L306.0,266.0 L307.0,264.5 L308.0,262.9 L309.0,261.4 L310.0,259.8 L311.0,258.2 L312.0,256.4 L313.0,254.7 L314.0,252.7 L315.0,250.7 L316.0,248.5 L317.0,246.3 L318.0,244.1 L319.0,241.8 L320.0,239.6 L321.0,237.3 L322.0,235.0 L323.0,232.6 L324.0,230.2 L325.0,227.9 L326.0,225.7 L327.0,223.6 L328.0,221.6 L329.0,219.8 L330.0,218.2 L331.0,216.6 L332.0,215.1 L333.0,213.6 L334.0,212.3 L335.0,210.9 L336.0,209.5 L337.0,208.2 L338.0,206.8 L339.0,205.5 L340.0,204.1 L341.0,202.7 L342.0,201.4 L343.0,200.1 L344.0,198.9 L345.0,197.7 L346.0,196.5 L347.0,195.2 L348.0,194.0 L349.0,192.9 L350.0,191.9 L351.0,190.9 L352.0,190.0 L353.0,189.1 L354.0,188.3 L355.0,187.5 L356.0,186.8 L357.0,186.1 L358.0,185.5 L359.0,184.9 L360.0,184.3 L361.0,183.8 L362.0,183.3 L363.0,182.9 L364.0,182.4 L365.0,182.0 L366.0,181.6 L367.0,181.2 L368.0,180.8 L369.0,180.5 L370.0,180.1 L371.0,179.8 L372.0,179.5 L373.0,179.2 L374.0,179.0 L375.0,178.7 L376.0,178.5 L377.0,178.3 L378.0,178.1 L379.0,177.9 L380.0,177.7 L381.0,177.5 L382.0,177.3 L383.0,177.2 L384.0,177.0 L385.0,176.8 L386.0,176.6 L387.0,176.4 L388.0,176.2 L389.0,176.0 L390.0,175.7 L391.0,175.5 L392.0,175.2 L393.0,175.0 L394.0,174.7 L395.0,174.4 L396.0,174.0 L397.0,173.7 L398.0,173.3 L399.0,173.0 L400.0,172.6 L401.0,172.2 L402.0,171.8 L403.0,171.4 L404.0,170.9 L405.0,170.5 L406.0,170.0 L407.0,169.6 L408.0,169.1 L409.0,168.6 L410.0,168.0 L411.0,167.5 L412.0,167.0 L413.0,166.4 L414.0,165.9 L415.0,165.4 L416.0,164.9 L417.0,164.5 L418.0,164.1 L419.0,163.7 L420.0,163.4 L421.0,163.1 L422.0,162.9 L423.0,162.8 L424.0,162.7 L425.0,162.6 L426.0,162.6 L427.0,162.8 L428.0,162.9 L429.0,163.1 L430.0,163.3 L430.2,163.4 L430.4,163.4 L430.6,163.5 L430.8,163.6 L431.0,163.6 L431.2,163.7 L431.4,163.8 L431.6,163.9 L431.8,164.0 L432.0,164.2 L432.2,164.3 L432.4,164.4 L432.6,164.6 L432.8,164.8 L433.0,164.9 L433.2,165.1 L433.4,165.3 L433.6,165.5 L433.8,165.7 L434.0,165.9 L434.2,166.1 L434.4,166.3 L434.6,166.5 L434.8,166.7 L435.0,166.9 L435.2,167.1 L435.4,167.3 L435.6,167.5 L435.8,167.8 L436.0,168.0 L436.2,168.2 L436.4,168.5 L436.6,168.7 L436.8,169.0 L437.0,169.3 L437.2,169.5 L437.4,169.9 L437.6,170.2 L437.8,170.5 L438.0,170.9 L438.2,171.3 L438.4,171.7 L438.6,172.2 L438.8,172.7 L439.0,173.3 L439.2,173.9 L439.4,174.7 L439.6,175.6 L439.8,176.8 L440.0,178.3 L440.2,181.7 L440.4,186.5 L440.6,192.0 L440.8,197.6 L441.0,202.7 L441.2,206.5 L441.4,208.5 L441.6,209.5 L441.8,210.4 L442.0,211.3 L442.2,212.0 L442.4,212.7 L442.6,213.3 L442.8,213.8 L443.0,214.3 L443.2,214.8 L443.4,215.2 L443.6,215.6 L443.8,216.0 L444.0,216.3 L444.2,216.7 L444.4,217.0 L444.6,217.4 L444.8,217.8 L445.0,218.1 L445.2,218.6 L445.4,219.0 L445.6,219.5 L445.8,220.0 L446.0,220.5 L447.0,222.8 L448.0,225.1 L449.0,227.4 L450.0,229.8 L451.0,232.2 L452.0,234.7 L453.0,237.2 L454.0,239.6 L455.0,242.0 L456.0,244.4 L457.0,246.7 L458.0,249.1 L459.0,251.4 L460.0,253.8 L461.0,256.2 L462.0,258.6 L463.0,261.0 L464.0,263.5 L465.0,265.9 L466.0,268.4 L467.0,271.0 L468.0,273.5 L469.0,276.0 L470.0,278.6 L471.0,281.1 L472.0,283.6 L473.0,286.1 L474.0,288.6 L475.0,291.1 L476.0,293.7 L477.0,296.3 L478.0,298.9 L479.0,301.5 L480.0,304.0 L481.0,306.5 L482.0,309.1 L483.0,311.6 L484.0,314.1 L485.0,316.4 L486.0,318.7 L487.0,320.9 L488.0,323.1 L489.0,325.2 L490.0,327.2 L491.0,329.1 L492.0,330.9 L493.0,332.7 L494.0,334.4 L495.0,336.0 L496.0,337.5 L497.0,338.8 L498.0,340.1 L499.0,341.3 L500.0,342.4 L501.0,343.6 L502.0,344.7 L503.0,345.7 L504.0,346.8 L505.0,347.7 L506.0,348.5 L507.0,349.4 L508.0,350.2 L509.0,351.0 L510.0,351.7 L511.0,352.4 L512.0,353.0 L513.0,353.6 L514.0,354.1 L515.0,354.6 L516.0,355.1 L517.0,355.5 L518.0,355.9 L519.0,356.3 L520.0,356.7 L521.0,357.0 L522.0,357.4 L523.0,357.7 L524.0,358.0 L525.0,358.3 L526.0,358.6 L527.0,358.9 L528.0,359.1 L529.0,359.3 L530.0,359.5 L531.0,359.7 L532.0,359.9 L533.0,360.1 L534.0,360.3 L535.0,360.4 L536.0,360.6 L537.0,360.7 L538.0,360.9 L539.0,361.0 L540.0,361.1 L541.0,361.3 L542.0,361.4 L543.0,361.5 L544.0,361.6 L545.0,361.8 L546.0,361.9 L547.0,362.0 L548.0,362.1 L549.0,362.2 L550.0,362.4 L551.0,362.5 L552.0,362.6 L553.0,362.7 L554.0,362.8 L555.0,362.9 L556.0,363.0 L557.0,363.1 L558.0,363.1 L559.0,363.2 L560.0,363.2 L562.0,363.3 L564.0,363.4 L566.0,363.5 L568.0,363.6 L570.0,363.6 L572.0,363.7 L574.0,363.8 L576.0,363.8 L578.0,363.8 L580.0,363.9 L582.0,363.9 L584.0,363.9 L586.0,363.9 L588.0,364.0 L590.0,364.0 L592.0,364.0 L594.0,364.0 L596.0,364.0 L598.0,364.0 L600.0,364.0 L602.0,364.0 L604.0,364.0 L606.0,364.0 L608.0,364.0 L610.0,364.0 L612.0,364.1 L614.0,364.1 L616.0,364.1 L618.0,364.1 L620.0,364.1 L622.0,364.1 L624.0,364.1 L626.0,364.1 L628.0,364.2 L630.0,364.2 L632.0,364.2 L634.0,364.2 L636.0,364.3 L638.0,364.4 L640.0,364.4 L642.0,364.5 L644.0,364.7 L646.0,364.8 L648.0,364.9 L650.0,364.9 L652.0,365.0 L654.0,365.0 L656.0,365.0 L658.0,365.0 L660.0,364.9 L662.0,364.8 L664.0,364.6 L666.0,364.5 L668.0,364.4 L670.0,364.3 L672.0,364.2 L674.0,364.2 L676.0,364.1 L678.0,364.2 L680.0,364.3 L682.0,364.4 L684.0,364.5 L686.0,364.6 L688.0,364.7 L690.0,364.9 L692.0,365.0 L694.0,365.1 L696.0,365.3 L698.0,365.4 L700.0,365.4 L702.0,365.4 L704.0,365.4 L706.0,365.3 L708.0,365.2 L710.0,365.1 L712.0,364.9 L714.0,364.8 L716.0,364.7 L718.0,364.6 L720.0,364.5 L722.0,364.3 L724.0,364.2 L726.0,364.1 L728.0,363.9 L729.2,363.9"/>
<path stroke="#00008b" stroke-width="1.62" d="M148.6,367.8 L296.0,367.8 L298.0,367.8 L299.0,367.8 L300.0,367.8 L301.0,367.8 L302.0,367.8 L303.0,367.8 L304.0,367.8 L305.0,367.8 L306.0,367.8 L307.0,367.8 L308.0,367.8 L309.0,367.8 L310.0,367.8 L311.0,367.8 L312.0,367.8 L313.0,367.8 L314.0,367.8 L315.0,367.8 L316.0,367.8 L317.0,367.8 L318.0,367.8 L319.0,367.8 L320.0,367.8 L321.0,367.8 L322.0,367.8 L323.0,367.8 L324.0,367.8 L325.0,367.8 L326.0,367.8 L327.0,367.8 L328.0,367.8 L329.0,367.7 L330.0,367.7 L331.0,367.7 L332.0,367.7 L333.0,367.7 L334.0,367.7 L335.0,367.7 L336.0,367.7 L337.0,367.7 L338.0,367.7 L339.0,367.7 L340.0,367.6 L341.0,367.6 L342.0,367.6 L343.0,367.5 L344.0,367.5 L345.0,367.4 L346.0,367.3 L347.0,367.2 L348.0,367.1 L349.0,367.0 L350.0,366.9 L351.0,366.8 L352.0,366.7 L353.0,366.6 L354.0,366.4 L355.0,366.3 L356.0,366.2 L357.0,366.1 L358.0,365.9 L359.0,365.8 L360.0,365.6 L361.0,365.5 L362.0,365.3 L363.0,365.1 L364.0,364.9 L365.0,364.7 L366.0,364.5 L367.0,364.2 L368.0,363.9 L369.0,363.7 L370.0,363.4 L371.0,363.0 L372.0,362.7 L373.0,362.4 L374.0,362.0 L375.0,361.7 L376.0,361.3 L377.0,360.9 L378.0,360.5 L379.0,360.1 L380.0,359.7 L381.0,359.2 L382.0,358.8 L383.0,358.3 L384.0,357.8 L385.0,357.3 L386.0,356.7 L387.0,356.1 L388.0,355.5 L389.0,354.8 L390.0,354.0 L391.0,353.2 L392.0,352.3 L393.0,351.3 L394.0,350.2 L395.0,349.0 L396.0,347.8 L397.0,346.5 L398.0,345.2 L399.0,343.8 L400.0,342.4 L401.0,340.9 L402.0,339.5 L403.0,338.0 L404.0,336.6 L405.0,335.2 L406.0,333.8 L407.0,332.4 L408.0,331.1 L409.0,329.8 L410.0,328.4 L411.0,327.1 L412.0,325.7 L413.0,324.2 L414.0,322.7 L415.0,321.0 L416.0,319.2 L417.0,317.3 L418.0,315.1 L419.0,312.7 L420.0,310.1 L421.0,307.3 L422.0,304.4 L423.0,301.2 L424.0,298.0 L425.0,294.6 L426.0,291.2 L427.0,287.7 L428.0,284.2 L429.0,280.7 L430.0,277.1 L430.3,276.0 L430.6,274.9 L430.9,273.8 L431.2,272.7 L431.5,271.6 L431.8,270.5 L432.1,269.3 L432.4,268.1 L432.7,267.0 L433.0,265.7 L433.3,264.5 L433.6,263.2 L433.9,261.8 L434.2,260.5 L434.5,259.1 L434.8,257.6 L435.1,256.0 L435.4,254.5 L435.7,252.9 L436.0,251.3 L436.3,249.7 L436.6,248.1 L436.9,246.5 L437.2,245.0 L437.5,243.4 L437.8,241.8 L438.1,240.2 L438.4,238.7 L438.7,237.1 L438.9,236.0 L440.5,242.5 L440.8,249.0 L441.0,248.5 L442.0,245.9 L443.0,243.3 L444.0,240.7 L445.0,238.1 L446.0,235.5 L447.0,233.0 L448.0,230.4 L449.0,227.9 L450.0,225.4 L451.0,222.9 L452.0,220.4 L453.0,217.9 L454.0,215.4 L455.0,213.0 L456.0,210.5 L457.0,208.1 L458.0,205.7 L459.0,203.4 L460.0,201.0 L461.0,198.8 L462.0,196.5 L463.0,194.1 L464.0,191.7 L465.0,189.3 L466.0,186.7 L467.0,184.1 L468.0,181.4 L469.0,178.7 L470.0,175.9 L471.0,173.1 L472.0,170.2 L473.0,167.4 L474.0,164.7 L475.0,162.3 L476.0,160.0 L477.0,158.1 L478.0,156.5 L479.0,155.2 L480.0,154.2 L481.0,153.3 L482.0,152.5 L483.0,151.8 L484.0,151.2 L485.0,150.5 L486.0,150.0 L487.0,149.4 L488.0,148.9 L489.0,148.4 L490.0,147.9 L491.0,147.5 L492.0,147.2 L493.0,146.9 L494.0,146.7 L495.0,146.5 L496.0,146.4 L497.0,146.4 L498.0,146.5 L499.0,146.6 L500.0,146.7 L501.0,146.9 L502.0,147.1 L503.0,147.3 L504.0,147.6 L505.0,147.9 L506.0,148.2 L507.0,148.5 L508.0,148.8 L509.0,149.1 L510.0,149.5 L511.0,149.8 L512.0,150.2 L513.0,150.6 L514.0,151.0 L515.0,151.4 L516.0,151.8 L517.0,152.3 L518.0,152.8 L519.0,153.2 L520.0,153.7 L521.0,154.2 L522.0,154.7 L523.0,155.2 L524.0,155.7 L525.0,156.3 L526.0,156.8 L527.0,157.3 L528.0,157.9 L529.0,158.5 L530.0,159.1 L531.0,159.7 L532.0,160.3 L533.0,160.9 L534.0,161.6 L535.0,162.3 L536.0,163.0 L537.0,163.8 L538.0,164.5 L539.0,165.4 L540.0,166.2 L541.0,167.1 L542.0,168.0 L543.0,168.9 L544.0,169.8 L545.0,170.8 L546.0,171.7 L547.0,172.7 L548.0,173.6 L549.0,174.5 L550.0,175.3 L551.0,176.2 L552.0,176.9 L553.0,177.6 L554.0,178.3 L555.0,178.9 L556.0,179.5 L557.0,180.1 L558.0,180.7 L559.0,181.3 L560.0,181.9 L561.0,182.5 L562.0,183.2 L563.0,183.8 L564.0,184.6 L565.0,185.4 L566.0,186.2 L567.0,187.0 L568.0,187.9 L569.0,188.8 L570.0,189.7 L571.0,190.6 L572.0,191.6 L573.0,192.6 L574.0,193.6 L575.0,194.6 L576.0,195.6 L577.0,196.6 L578.0,197.7 L579.0,198.7 L580.0,199.8 L581.0,200.9 L582.0,202.0 L583.0,203.2 L584.0,204.3 L585.4,206.0 L586.0,208.8 L587.0,213.5 L588.0,218.2 L589.0,222.9 L590.0,227.6 L591.0,232.2 L592.0,236.4 L593.0,240.2 L594.0,243.8 L595.0,247.5 L596.0,251.4 L597.0,255.5 L598.0,259.6 L599.0,263.4 L600.0,266.9 L601.0,270.3 L602.0,273.6 L603.0,276.8 L604.0,279.9 L605.0,283.0 L606.0,286.0 L607.0,288.9 L608.0,291.8 L609.0,294.7 L610.0,297.6 L611.0,300.6 L612.0,303.6 L613.0,306.6 L614.0,309.6 L615.0,312.5 L616.0,315.3 L617.0,318.0 L618.0,320.7 L619.0,323.2 L620.0,325.7 L621.0,328.2 L622.0,330.5 L623.0,332.8 L624.0,335.1 L625.0,337.4 L626.0,339.5 L627.0,341.5 L628.0,343.4 L629.0,345.2 L630.0,346.9 L631.0,348.5 L632.0,350.0 L633.0,351.4 L634.0,352.7 L635.0,353.9 L636.0,355.0 L637.0,356.1 L638.0,357.1 L639.0,358.0 L640.0,358.8 L641.0,359.6 L642.0,360.2 L643.0,360.9 L644.0,361.5 L645.0,362.0 L646.0,362.5 L647.0,363.0 L648.0,363.4 L649.0,363.8 L650.0,364.2 L651.0,364.6 L652.0,364.9 L653.0,365.3 L654.0,365.6 L655.0,365.9 L656.0,366.2 L657.0,366.5 L658.0,366.7 L659.0,366.9 L660.0,367.0 L661.0,367.2 L662.0,367.3 L663.0,367.4 L664.0,367.5 L665.0,367.6 L666.0,367.6 L667.0,367.7 L668.0,367.7 L669.0,367.8 L670.0,367.8 L671.0,367.8 L672.0,367.8 L673.0,367.8 L674.0,367.8 L675.0,367.8 L700.0,367.8 L729.5,367.8"/>
<path stroke="#ff0000" d="M149.2,365.4 L151.2,365.2 L153.2,365.0 L155.2,364.7 L157.2,364.4 L159.2,364.1 L161.2,363.8 L163.2,363.4 L165.2,363.0 L167.2,362.6 L169.2,362.1 L171.2,361.6 L173.2,361.1 L175.2,360.7 L177.2,360.2 L179.2,359.7 L181.2,359.2 L183.2,358.7 L185.2,358.2 L187.2,357.7 L189.2,357.1 L191.2,356.6 L193.2,356.0 L195.2,355.3 L197.2,354.7 L199.2,354.0 L201.2,353.2 L203.2,352.4 L205.2,351.5 L207.2,350.5 L209.2,349.6 L211.2,348.6 L213.2,347.6 L215.2,346.5 L217.2,345.4 L219.2,344.3 L221.2,343.2 L223.2,342.1 L225.2,340.9 L227.2,339.7 L229.2,338.4 L231.2,337.1 L233.2,335.8 L235.2,334.4 L237.2,333.0 L239.2,331.6 L241.2,330.1 L243.2,328.7 L245.2,327.2 L247.2,325.7 L249.2,324.1 L251.2,322.5 L253.2,320.8 L255.2,319.1 L257.2,317.4 L259.2,315.7 L261.2,313.9 L263.2,312.2 L265.2,310.4 L267.2,308.7 L269.2,306.9 L271.2,305.0 L273.2,303.2 L275.2,301.3 L277.2,299.4 L279.2,297.5 L281.2,295.7 L283.2,294.0 L285.2,292.3 L287.2,290.7 L289.2,289.2 L290.0,288.6 L290.5,288.3 L291.0,287.9 L291.5,287.6 L292.0,287.2 L292.5,286.9 L293.0,286.5 L293.5,286.2 L294.0,285.8 L294.5,285.5 L295.0,284.7 L295.5,283.8 L296.0,283.0 L296.5,282.2 L297.0,281.3 L297.5,280.5 L298.0,279.7 L298.5,278.9 L299.0,278.0 L299.5,277.2 L300.0,276.4 L301.0,274.7 L302.0,273.1 L303.0,271.4 L304.0,269.8 L305.0,268.2 L306.0,266.6 L307.0,265.1 L308.0,263.6 L309.0,262.0 L310.0,260.4 L311.0,258.8 L312.0,257.0 L313.0,255.2 L314.0,253.2 L315.0,251.0 L316.0,248.8 L317.0,246.4 L318.0,244.1 L319.0,241.8 L320.0,239.5 L321.0,237.2 L322.0,234.8 L323.0,232.4 L324.0,230.0 L325.0,227.7 L326.0,225.4 L327.0,223.3 L328.0,221.3 L329.0,219.5 L330.0,217.8 L331.0,216.2 L332.0,214.6 L333.0,213.2 L334.0,211.8 L335.0,210.4 L336.0,209.0 L337.0,207.6 L338.0,206.3 L339.0,204.9 L340.0,203.4 L341.0,202.0 L342.0,200.7 L343.0,199.4 L344.0,198.2 L345.0,196.9 L346.0,195.7 L347.0,194.5 L348.0,193.3 L349.0,192.1 L350.0,191.1 L351.0,190.1 L352.0,189.2 L353.0,188.3 L354.0,187.5 L355.0,186.8 L356.0,186.0 L357.0,185.4 L358.0,184.7 L359.0,184.2 L360.0,183.6 L361.0,183.1 L362.0,182.6 L363.0,182.1 L364.0,181.6 L365.0,181.2 L366.0,180.8 L367.0,180.4 L368.0,180.1 L369.0,179.7 L370.0,179.4 L371.0,179.1 L372.0,178.8 L373.0,178.5 L374.0,178.2 L375.0,178.0 L376.0,177.8 L377.0,177.5 L378.0,177.3 L379.0,177.1 L380.0,177.0 L381.0,176.8 L382.0,176.6 L383.0,176.4 L384.0,176.2 L385.0,176.1 L386.0,175.9 L387.0,175.7 L388.0,175.5 L389.0,175.2 L390.0,175.0 L391.0,174.8 L392.0,174.5 L393.0,174.2 L394.0,173.9 L395.0,173.6 L396.0,173.3 L397.0,172.9 L398.0,172.6 L399.0,172.2 L400.0,171.8 L401.0,171.4 L402.0,171.0 L403.0,170.6 L404.0,170.2 L405.0,169.7 L406.0,169.3 L407.0,168.8 L408.0,168.3 L409.0,167.8 L410.0,167.3 L411.0,166.8 L412.0,166.2 L413.0,165.7 L414.0,165.2 L415.0,164.7 L416.0,164.2 L417.0,163.8 L418.0,163.4 L419.0,163.0 L420.0,162.7 L421.0,162.4 L422.0,162.2 L423.0,162.0 L424.0,161.9 L425.0,161.9 L426.0,161.9 L427.0,162.0 L428.0,162.2 L429.0,162.3 L430.0,162.6 L430.2,162.6 L430.4,162.7 L430.6,162.7 L430.8,162.8 L431.0,162.9 L431.2,163.0 L431.4,163.1 L431.6,163.2 L431.8,163.3 L432.0,163.4 L432.2,163.6 L432.4,163.7 L432.6,163.8 L432.8,164.0 L433.0,164.2 L433.2,164.4 L433.4,164.5 L433.6,164.7 L433.8,164.9 L434.0,165.1 L434.2,165.3 L434.4,165.5 L434.6,165.7 L434.8,165.9 L435.0,166.1 L435.2,166.3 L435.4,166.6 L435.6,166.8 L435.8,167.0 L436.0,167.2 L436.2,167.5 L436.4,167.7 L436.6,168.0 L436.8,168.2 L437.0,168.5 L437.2,168.8 L437.4,169.1 L437.6,169.4 L437.8,169.8 L438.0,170.2 L438.2,170.6 L438.4,171.0 L438.6,171.4 L438.8,171.9 L439.0,172.5 L439.2,173.2 L439.4,174.0 L439.6,174.9 L439.8,176.0 L440.0,177.5 L440.2,180.4 L440.4,184.4 L440.6,189.2 L440.8,194.2 L441.0,199.1 L441.2,203.4 L441.4,206.6 L441.6,208.4 L441.8,209.2 L442.0,210.0 L442.2,210.7 L442.4,211.3 L442.6,211.8 L442.8,212.3 L443.0,212.7 L443.2,213.1 L443.4,213.5 L443.6,213.8 L443.8,214.1 L444.0,214.4 L444.2,214.7 L444.4,215.0 L444.6,215.3 L444.8,215.6 L445.0,216.0 L445.2,216.3 L445.4,216.8 L445.6,217.2 L445.8,217.7 L446.0,218.1 L447.0,220.4 L448.0,222.7 L449.0,225.1 L450.0,227.5 L451.0,230.0 L452.0,232.5 L453.0,235.0 L454.0,237.5 L455.0,239.9 L456.0,242.3 L457.0,244.6 L458.0,247.0 L459.0,249.3 L460.0,251.7 L461.0,254.0 L462.0,256.4 L463.0,258.7 L464.0,261.2 L465.0,263.6 L466.0,266.1 L467.0,268.6 L468.0,271.1 L469.0,273.7 L470.0,276.2 L471.0,278.7 L472.0,281.3 L473.0,283.8 L474.0,286.4 L475.0,289.0 L476.0,291.5 L477.0,294.2 L478.0,296.8 L479.0,299.4 L480.0,302.0 L481.0,304.5 L482.0,307.0 L483.0,309.5 L484.0,311.9 L485.0,314.3 L486.0,316.6 L487.0,318.9 L488.0,321.1 L489.0,323.3 L490.0,325.3 L491.0,327.3 L492.0,329.2 L493.0,331.0 L494.0,332.8 L495.0,334.4 L496.0,335.9 L497.0,337.3 L498.0,338.6 L499.0,339.9 L500.0,341.1 L501.0,342.3 L502.0,343.5 L503.0,344.6 L504.0,345.7 L505.0,346.7 L506.0,347.6 L507.0,348.5 L508.0,349.4 L509.0,350.2 L510.0,351.0 L511.0,351.7 L512.0,352.4 L513.0,353.0 L514.0,353.6 L515.0,354.1 L516.0,354.6 L517.0,355.1 L518.0,355.5 L519.0,355.9 L520.0,356.3 L521.0,356.7 L522.0,357.0 L523.0,357.4 L524.0,357.7 L525.0,358.0 L526.0,358.3 L527.0,358.6 L528.0,358.8 L529.0,359.1 L530.0,359.3 L531.0,359.5 L532.0,359.7 L533.0,359.9 L534.0,360.1 L535.0,360.2 L536.0,360.4 L537.0,360.5 L538.0,360.7 L539.0,360.8 L540.0,361.0 L541.0,361.1 L542.0,361.2 L543.0,361.4 L544.0,361.5 L545.0,361.6 L546.0,361.7 L547.0,361.9 L548.0,362.0 L549.0,362.1 L550.0,362.2 L551.0,362.3 L552.0,362.5 L553.0,362.6 L554.0,362.7 L555.0,362.8 L556.0,362.9 L557.0,363.0 L558.0,363.0 L559.0,363.1 L560.0,363.1 L562.0,363.2 L564.0,363.3 L566.0,363.4 L568.0,363.5 L570.0,363.5 L572.0,363.6 L574.0,363.7 L576.0,363.7 L578.0,363.8 L580.0,363.8 L582.0,363.8 L584.0,363.8 L586.0,363.9 L588.0,363.9 L590.0,363.9 L592.0,363.9 L594.0,363.9 L596.0,363.9 L598.0,363.9 L600.0,363.9 L602.0,363.9 L604.0,363.9 L606.0,363.9 L608.0,363.9 L610.0,363.9 L612.0,364.0 L614.0,364.0 L616.0,364.0 L618.0,364.0 L620.0,364.0 L622.0,364.0 L624.0,364.0 L626.0,364.1 L628.0,364.1 L630.0,364.1 L632.0,364.1 L634.0,364.1 L636.0,364.2 L638.0,364.3 L640.0,364.4 L642.0,364.5 L644.0,364.6 L646.0,364.7 L648.0,364.8 L650.0,364.9 L652.0,364.9 L654.0,364.9 L656.0,364.9 L658.0,364.9 L660.0,364.8 L662.0,364.7 L664.0,364.5 L666.0,364.4 L668.0,364.4 L670.0,364.2 L672.0,364.2 L674.0,364.1 L676.0,364.0 L678.0,364.1 L680.0,364.2 L682.0,364.3 L684.0,364.4 L686.0,364.5 L688.0,364.6 L690.0,364.8 L692.0,364.9 L694.0,365.0 L696.0,365.2 L698.0,365.3 L700.0,365.3 L702.0,365.3 L704.0,365.3 L706.0,365.2 L708.0,365.1 L710.0,365.0 L712.0,364.8 L714.0,364.7 L716.0,364.6 L718.0,364.5 L720.0,364.4 L722.0,364.2 L724.0,364.1 L726.0,364.0 L728.0,363.9 L729.2,363.8"/>
</g>
<path d="M606.4,71.9H691" stroke="#ff2020" stroke-width="1.6"/>
<path d="M606.4,104.1H691" stroke="#00008b" stroke-width="1.6"/>
<g font-family="'Liberation Serif', serif" font-size="33" fill="#000">
<text x="292.2" y="45.9" text-anchor="middle" stroke="#000" stroke-width="0.3">E</text>
<text x="437.7" y="45.9" text-anchor="middle" stroke="#000" stroke-width="0.3">F</text>
<text x="585.0" y="45.9" text-anchor="middle" stroke="#000" stroke-width="0.3">R</text>
<text x="731.6" y="45.9" text-anchor="middle" stroke="#000" stroke-width="0.3">D</text>
<text x="224.6" y="407.5" text-anchor="middle" stroke="#000" stroke-width="0.3">Zone I</text>
<text x="370.0" y="407.5" text-anchor="middle" stroke="#000" stroke-width="0.3">II</text>
<text x="516.0" y="407.5" text-anchor="middle" stroke="#000" stroke-width="0.3">III</text>
<text x="662.0" y="407.5" text-anchor="middle" stroke="#000" stroke-width="0.3">IV</text>
<text x="129.6" y="56.8" text-anchor="end" letter-spacing="0.4" stroke="#fff" stroke-width="0.3">1.2</text>
<text x="129.6" y="110.1" text-anchor="end" letter-spacing="0.4" stroke="#fff" stroke-width="0.3">1</text>
<text x="129.6" y="163.4" text-anchor="end" letter-spacing="0.4" stroke="#fff" stroke-width="0.3">0.8</text>
<text x="129.6" y="216.7" text-anchor="end" letter-spacing="0.4" stroke="#fff" stroke-width="0.3">0.6</text>
<text x="129.6" y="270.0" text-anchor="end" letter-spacing="0.4" stroke="#fff" stroke-width="0.3">0.4</text>
<text x="129.6" y="323.3" text-anchor="end" letter-spacing="0.4" stroke="#fff" stroke-width="0.3">0.2</text>
<text x="129.6" y="376.6" text-anchor="end" letter-spacing="0.4" stroke="#fff" stroke-width="0.3">0</text>
<g transform="translate(62.9,375.2) rotate(-90)"><text x="0" y="0" stroke="#000" stroke-width="0.3">Concentration</text><text x="196.6" y="0">[mol</text><text x="262.4" y="0">m</text><text x="293.6" y="-10.2" font-size="23.1" textLength="17" lengthAdjust="spacingAndGlyphs">−</text><text x="310.6" y="-11.6" font-size="23.1">3</text><text x="322.4" y="0">]</text></g>
<g transform="translate(0.0,0.0)" fill="none" stroke="#000" stroke-linecap="round" stroke-linejoin="round"><path d="M428.9,69.2 C428.7,66.7 426.5,65.4 424.3,65.5 C420.8,65.7 418.5,70.6 418.5,74.6 C418.5,77.7 420.1,79.6 422.8,79.6 C425.7,79.6 428.6,78.3 430.5,75.9" stroke-width="0.95"/><path d="M422.4,66.7 C420.0,68.6 418.95,72.0 418.95,74.8 C418.95,76.6 419.5,78.0 420.6,78.8" stroke-width="1.9"/><circle cx="428.2" cy="68.9" r="1.4" fill="#000" stroke="none"/></g><text x="431.2" y="83.7" font-size="22.8" stroke="#000" stroke-width="0.3">cyt</text><path d="M471.3,54.6 C466.4,59.2 462.6,63.6 462.6,71.1 C462.6,78.6 466.4,83.0 471.3,87.6 L471.9,87.1 C467.6,82.4 464.9,78.6 464.9,71.1 C464.9,63.6 467.6,59.8 471.9,55.1 Z" fill="#000" stroke="none"/><path d="M576.1,54.6 C581.0,59.2 584.8,63.6 584.8,71.1 C584.8,78.6 581.0,83.0 576.1,87.6 L575.5,87.1 C579.8,82.4 582.5,78.6 582.5,71.1 C582.5,63.6 579.8,59.8 575.5,55.1 Z" fill="#000" stroke="none"/><g transform="translate(0,0.0)" fill="none" stroke="#000" stroke-linecap="round" stroke-linejoin="round"><path d="M479.8,59.6 L476.0,74.6 C475.3,77.4 475.7,79.6 477.5,79.7" stroke-width="1.9" stroke-linecap="butt"/><path d="M477.3,79.75 C479.4,79.9 481.4,77.6 482.4,74.5" stroke-width="0.9"/><path d="M472.9,66.1 H482.6" stroke-width="0.9" stroke-linecap="butt"/><path d="M494.7,68.4H516.4 M494.7,74.6H516.4" stroke-width="1.0" stroke-linecap="butt"/><path d="M528.0,70.4 C528.9,68.0 530.4,66.5 532.8,66.5" stroke-width="0.9"/><path d="M532.0,66.5 H543.9" stroke-width="1.5"/><path d="M536.4,66.6 L537.5,66.8 L534.6,79.7 C534.3,80.5 532.7,80.3 532.8,79.3 Z" fill="#000" stroke-width="0.4"/><circle cx="547.5" cy="77.5" r="1.6" fill="#000" stroke="none"/><path d="M548.9,77.3 C549.6,80.3 548.6,83.6 546.8,85.7" stroke-width="0.8"/><path d="M562.3,69.2 C562.6,67.5 563.9,65.9 565.6,65.9 C567.4,65.9 568.6,67.3 570.2,67.3 C571.4,67.3 572.2,66.6 573.0,65.6" stroke-width="1.3"/><path d="M573.0,65.6 L559.5,79.6" stroke-width="0.8"/><path d="M559.5,79.6 C560.5,78.0 561.8,77.3 563.2,77.3 C565.2,77.3 566.4,79.4 568.4,79.4 C570.2,79.4 571.4,77.8 571.7,75.7" stroke-width="1.3"/></g>
<g transform="translate(-33.5,32.1)" fill="none" stroke="#000" stroke-linecap="round" stroke-linejoin="round"><path d="M428.9,69.2 C428.7,66.7 426.5,65.4 424.3,65.5 C420.8,65.7 418.5,70.6 418.5,74.6 C418.5,77.7 420.1,79.6 422.8,79.6 C425.7,79.6 428.6,78.3 430.5,75.9" stroke-width="0.95"/><path d="M422.4,66.7 C420.0,68.6 418.95,72.0 418.95,74.8 C418.95,76.6 419.5,78.0 420.6,78.8" stroke-width="1.9"/><circle cx="428.2" cy="68.9" r="1.4" fill="#000" stroke="none"/></g><text x="397.2" y="116.8" font-size="22.8" stroke="#000" stroke-width="0.3">RNase</text><path d="M471.3,86.7 C466.4,91.3 462.6,95.7 462.6,103.2 C462.6,110.7 466.4,115.1 471.3,119.7 L471.9,119.2 C467.6,114.5 464.9,110.7 464.9,103.2 C464.9,95.7 467.6,91.9 471.9,87.2 Z" fill="#000" stroke="none"/><path d="M576.1,86.7 C581.0,91.3 584.8,95.7 584.8,103.2 C584.8,110.7 581.0,115.1 576.1,119.7 L575.5,119.2 C579.8,114.5 582.5,110.7 582.5,103.2 C582.5,95.7 579.8,91.9 575.5,87.2 Z" fill="#000" stroke="none"/><g transform="translate(0,32.1)" fill="none" stroke="#000" stroke-linecap="round" stroke-linejoin="round"><path d="M479.8,59.6 L476.0,74.6 C475.3,77.4 475.7,79.6 477.5,79.7" stroke-width="1.9" stroke-linecap="butt"/><path d="M477.3,79.75 C479.4,79.9 481.4,77.6 482.4,74.5" stroke-width="0.9"/><path d="M472.9,66.1 H482.6" stroke-width="0.9" stroke-linecap="butt"/><path d="M494.7,68.4H516.4 M494.7,74.6H516.4" stroke-width="1.0" stroke-linecap="butt"/><path d="M528.0,70.4 C528.9,68.0 530.4,66.5 532.8,66.5" stroke-width="0.9"/><path d="M532.0,66.5 H543.9" stroke-width="1.5"/><path d="M536.4,66.6 L537.5,66.8 L534.6,79.7 C534.3,80.5 532.7,80.3 532.8,79.3 Z" fill="#000" stroke-width="0.4"/><circle cx="547.5" cy="77.5" r="1.6" fill="#000" stroke="none"/><path d="M548.9,77.3 C549.6,80.3 548.6,83.6 546.8,85.7" stroke-width="0.8"/><path d="M562.3,69.2 C562.6,67.5 563.9,65.9 565.6,65.9 C567.4,65.9 568.6,67.3 570.2,67.3 C571.4,67.3 572.2,66.6 573.0,65.6" stroke-width="1.3"/><path d="M573.0,65.6 L559.5,79.6" stroke-width="0.8"/><path d="M559.5,79.6 C560.5,78.0 561.8,77.3 563.2,77.3 C565.2,77.3 566.4,79.4 568.4,79.4 C570.2,79.4 571.4,77.8 571.7,75.7" stroke-width="1.3"/></g>
</g>
</svg>
</body></html>
